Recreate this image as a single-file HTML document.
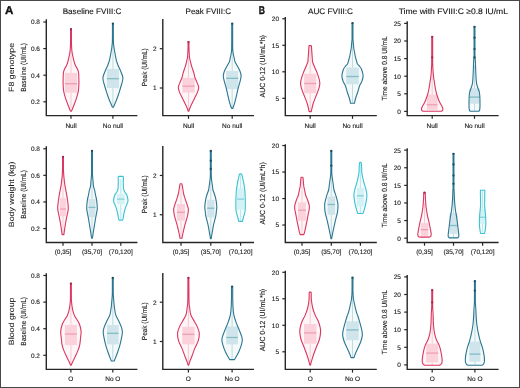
<!DOCTYPE html>
<html><head><meta charset="utf-8"><style>
html,body{margin:0;padding:0;background:#fff;}
svg{display:block;}
text{font-family:"Liberation Sans",sans-serif;text-rendering:geometricPrecision;}
</style></head><body>
<svg width="520" height="388" viewBox="0 0 520 388" font-family="Liberation Sans, sans-serif">
<rect x="0" y="0" width="520" height="388" fill="#ffffff"/>
<rect x="0.5" y="0.5" width="519" height="387" fill="none" stroke="#484848" stroke-width="1"/>
<line x1="43.30" y1="22.00" x2="46.30" y2="22.00" stroke="#262626" stroke-width="1.2"/>
<line x1="43.30" y1="48.60" x2="46.30" y2="48.60" stroke="#262626" stroke-width="1.2"/>
<line x1="43.30" y1="75.20" x2="46.30" y2="75.20" stroke="#262626" stroke-width="1.2"/>
<line x1="43.30" y1="101.80" x2="46.30" y2="101.80" stroke="#262626" stroke-width="1.2"/>
<path d="M70.55,29.00 L71.45,29.00 C71.45,30.83 71.43,37.17 71.45,40.00 C71.47,42.83 71.49,44.37 71.55,46.00 C71.61,47.63 71.69,48.63 71.80,49.80 C71.91,50.97 72.03,51.97 72.20,53.00 C72.37,54.03 72.53,54.77 72.80,56.00 C73.07,57.23 73.52,59.23 73.80,60.40 C74.08,61.57 74.20,62.10 74.50,63.00 C74.80,63.90 75.15,64.88 75.60,65.80 C76.05,66.72 76.75,67.58 77.20,68.50 C77.65,69.42 78.05,70.38 78.30,71.30 C78.55,72.22 78.62,73.05 78.70,74.00 C78.78,74.95 78.77,75.73 78.80,77.00 C78.83,78.27 78.90,80.10 78.90,81.60 C78.90,83.10 78.87,84.62 78.80,86.00 C78.73,87.38 78.65,88.70 78.50,89.90 C78.35,91.10 78.22,91.88 77.90,93.20 C77.58,94.52 77.03,96.42 76.60,97.80 C76.17,99.18 75.72,100.33 75.30,101.50 C74.88,102.67 74.48,103.80 74.10,104.80 C73.72,105.80 73.32,106.70 73.00,107.50 C72.68,108.30 72.47,108.98 72.20,109.60 C71.93,110.22 71.53,110.93 71.40,111.20 L70.60,111.20 C70.47,110.93 70.07,110.22 69.80,109.60 C69.53,108.98 69.32,108.30 69.00,107.50 C68.68,106.70 68.28,105.80 67.90,104.80 C67.52,103.80 67.12,102.67 66.70,101.50 C66.28,100.33 65.83,99.18 65.40,97.80 C64.97,96.42 64.42,94.52 64.10,93.20 C63.78,91.88 63.65,91.10 63.50,89.90 C63.35,88.70 63.27,87.38 63.20,86.00 C63.13,84.62 63.10,83.10 63.10,81.60 C63.10,80.10 63.17,78.27 63.20,77.00 C63.23,75.73 63.22,74.95 63.30,74.00 C63.38,73.05 63.45,72.22 63.70,71.30 C63.95,70.38 64.35,69.42 64.80,68.50 C65.25,67.58 65.95,66.72 66.40,65.80 C66.85,64.88 67.20,63.90 67.50,63.00 C67.80,62.10 67.92,61.57 68.20,60.40 C68.48,59.23 68.93,57.23 69.20,56.00 C69.47,54.77 69.63,54.03 69.80,53.00 C69.97,51.97 70.09,50.97 70.20,49.80 C70.31,48.63 70.39,47.63 70.45,46.00 C70.51,44.37 70.53,42.83 70.55,40.00 C70.57,37.17 70.55,30.83 70.55,29.00Z" fill="#fef5f7" stroke="none"/>
<line x1="71.00" y1="43.35" x2="71.00" y2="110.70" stroke="#f3bfcd" stroke-width="0.8"/>
<rect x="64.90" y="72.90" width="12.20" height="19.70" fill="#fbd1db"/>
<line x1="64.90" y1="83.70" x2="77.10" y2="83.70" stroke="#ef9fb3" stroke-width="1.3"/>
<path d="M70.55,29.00 L71.45,29.00 C71.45,30.83 71.43,37.17 71.45,40.00 C71.47,42.83 71.49,44.37 71.55,46.00 C71.61,47.63 71.69,48.63 71.80,49.80 C71.91,50.97 72.03,51.97 72.20,53.00 C72.37,54.03 72.53,54.77 72.80,56.00 C73.07,57.23 73.52,59.23 73.80,60.40 C74.08,61.57 74.20,62.10 74.50,63.00 C74.80,63.90 75.15,64.88 75.60,65.80 C76.05,66.72 76.75,67.58 77.20,68.50 C77.65,69.42 78.05,70.38 78.30,71.30 C78.55,72.22 78.62,73.05 78.70,74.00 C78.78,74.95 78.77,75.73 78.80,77.00 C78.83,78.27 78.90,80.10 78.90,81.60 C78.90,83.10 78.87,84.62 78.80,86.00 C78.73,87.38 78.65,88.70 78.50,89.90 C78.35,91.10 78.22,91.88 77.90,93.20 C77.58,94.52 77.03,96.42 76.60,97.80 C76.17,99.18 75.72,100.33 75.30,101.50 C74.88,102.67 74.48,103.80 74.10,104.80 C73.72,105.80 73.32,106.70 73.00,107.50 C72.68,108.30 72.47,108.98 72.20,109.60 C71.93,110.22 71.53,110.93 71.40,111.20 L70.60,111.20 C70.47,110.93 70.07,110.22 69.80,109.60 C69.53,108.98 69.32,108.30 69.00,107.50 C68.68,106.70 68.28,105.80 67.90,104.80 C67.52,103.80 67.12,102.67 66.70,101.50 C66.28,100.33 65.83,99.18 65.40,97.80 C64.97,96.42 64.42,94.52 64.10,93.20 C63.78,91.88 63.65,91.10 63.50,89.90 C63.35,88.70 63.27,87.38 63.20,86.00 C63.13,84.62 63.10,83.10 63.10,81.60 C63.10,80.10 63.17,78.27 63.20,77.00 C63.23,75.73 63.22,74.95 63.30,74.00 C63.38,73.05 63.45,72.22 63.70,71.30 C63.95,70.38 64.35,69.42 64.80,68.50 C65.25,67.58 65.95,66.72 66.40,65.80 C66.85,64.88 67.20,63.90 67.50,63.00 C67.80,62.10 67.92,61.57 68.20,60.40 C68.48,59.23 68.93,57.23 69.20,56.00 C69.47,54.77 69.63,54.03 69.80,53.00 C69.97,51.97 70.09,50.97 70.20,49.80 C70.31,48.63 70.39,47.63 70.45,46.00 C70.51,44.37 70.53,42.83 70.55,40.00 C70.57,37.17 70.55,30.83 70.55,29.00Z" fill="none" stroke="#db365f" stroke-width="1.10" stroke-linejoin="round"/>
<circle cx="71.00" cy="29.20" r="1.15" fill="#9c2b4e"/>
<path d="M112.45,23.50 L113.35,23.50 C113.35,25.42 113.33,31.92 113.35,35.00 C113.37,38.08 113.39,40.33 113.45,42.00 C113.51,43.67 113.58,43.83 113.70,45.00 C113.83,46.17 113.97,47.50 114.20,49.00 C114.43,50.50 114.75,52.13 115.10,54.00 C115.45,55.87 115.83,58.37 116.30,60.20 C116.77,62.03 117.25,63.37 117.90,65.00 C118.55,66.63 119.48,68.33 120.20,70.00 C120.92,71.67 121.75,73.67 122.20,75.00 C122.65,76.33 122.85,77.00 122.90,78.00 C122.95,79.00 122.80,79.67 122.50,81.00 C122.20,82.33 121.53,84.50 121.10,86.00 C120.67,87.50 120.37,88.50 119.90,90.00 C119.43,91.50 118.87,93.33 118.30,95.00 C117.73,96.67 117.08,98.50 116.50,100.00 C115.92,101.50 115.32,102.80 114.80,104.00 C114.28,105.20 113.63,106.67 113.40,107.20 L112.40,107.20 C112.17,106.67 111.52,105.20 111.00,104.00 C110.48,102.80 109.88,101.50 109.30,100.00 C108.72,98.50 108.07,96.67 107.50,95.00 C106.93,93.33 106.37,91.50 105.90,90.00 C105.43,88.50 105.13,87.50 104.70,86.00 C104.27,84.50 103.60,82.33 103.30,81.00 C103.00,79.67 102.85,79.00 102.90,78.00 C102.95,77.00 103.15,76.33 103.60,75.00 C104.05,73.67 104.88,71.67 105.60,70.00 C106.32,68.33 107.25,66.63 107.90,65.00 C108.55,63.37 109.03,62.03 109.50,60.20 C109.97,58.37 110.35,55.87 110.70,54.00 C111.05,52.13 111.37,50.50 111.60,49.00 C111.83,47.50 111.98,46.17 112.10,45.00 C112.23,43.83 112.29,43.67 112.35,42.00 C112.41,40.33 112.43,38.08 112.45,35.00 C112.47,31.92 112.45,25.42 112.45,23.50Z" fill="#f4f9fa" stroke="none"/>
<line x1="112.90" y1="40.50" x2="112.90" y2="106.70" stroke="#b2d3da" stroke-width="0.8"/>
<rect x="106.90" y="69.00" width="12.00" height="19.00" fill="#cfe5eb"/>
<line x1="106.90" y1="78.70" x2="118.90" y2="78.70" stroke="#82bcc6" stroke-width="1.3"/>
<path d="M112.45,23.50 L113.35,23.50 C113.35,25.42 113.33,31.92 113.35,35.00 C113.37,38.08 113.39,40.33 113.45,42.00 C113.51,43.67 113.58,43.83 113.70,45.00 C113.83,46.17 113.97,47.50 114.20,49.00 C114.43,50.50 114.75,52.13 115.10,54.00 C115.45,55.87 115.83,58.37 116.30,60.20 C116.77,62.03 117.25,63.37 117.90,65.00 C118.55,66.63 119.48,68.33 120.20,70.00 C120.92,71.67 121.75,73.67 122.20,75.00 C122.65,76.33 122.85,77.00 122.90,78.00 C122.95,79.00 122.80,79.67 122.50,81.00 C122.20,82.33 121.53,84.50 121.10,86.00 C120.67,87.50 120.37,88.50 119.90,90.00 C119.43,91.50 118.87,93.33 118.30,95.00 C117.73,96.67 117.08,98.50 116.50,100.00 C115.92,101.50 115.32,102.80 114.80,104.00 C114.28,105.20 113.63,106.67 113.40,107.20 L112.40,107.20 C112.17,106.67 111.52,105.20 111.00,104.00 C110.48,102.80 109.88,101.50 109.30,100.00 C108.72,98.50 108.07,96.67 107.50,95.00 C106.93,93.33 106.37,91.50 105.90,90.00 C105.43,88.50 105.13,87.50 104.70,86.00 C104.27,84.50 103.60,82.33 103.30,81.00 C103.00,79.67 102.85,79.00 102.90,78.00 C102.95,77.00 103.15,76.33 103.60,75.00 C104.05,73.67 104.88,71.67 105.60,70.00 C106.32,68.33 107.25,66.63 107.90,65.00 C108.55,63.37 109.03,62.03 109.50,60.20 C109.97,58.37 110.35,55.87 110.70,54.00 C111.05,52.13 111.37,50.50 111.60,49.00 C111.83,47.50 111.98,46.17 112.10,45.00 C112.23,43.83 112.29,43.67 112.35,42.00 C112.41,40.33 112.43,38.08 112.45,35.00 C112.47,31.92 112.45,25.42 112.45,23.50Z" fill="none" stroke="#2b7691" stroke-width="1.10" stroke-linejoin="round"/>
<circle cx="112.90" cy="23.70" r="1.15" fill="#1f4d5e"/>
<line x1="71.00" y1="115.60" x2="71.00" y2="118.80" stroke="#262626" stroke-width="1.2"/>
<line x1="112.90" y1="115.60" x2="112.90" y2="118.80" stroke="#262626" stroke-width="1.2"/>
<path d="M46.30,19.30 L46.30,115.60 L137.40,115.60" fill="none" stroke="#262626" stroke-width="1.4"/>
<line x1="159.80" y1="48.70" x2="162.80" y2="48.70" stroke="#262626" stroke-width="1.2"/>
<line x1="159.80" y1="88.00" x2="162.80" y2="88.00" stroke="#262626" stroke-width="1.2"/>
<path d="M188.05,41.90 L188.95,41.90 C188.95,42.75 188.93,45.65 188.95,47.00 C188.97,48.35 189.01,49.00 189.05,50.00 C189.09,51.00 189.12,51.72 189.20,53.00 C189.28,54.28 189.37,56.37 189.55,57.70 C189.73,59.03 189.99,59.70 190.30,61.00 C190.61,62.30 191.02,64.17 191.40,65.50 C191.78,66.83 192.18,67.72 192.60,69.00 C193.02,70.28 193.48,71.70 193.90,73.20 C194.32,74.70 194.57,76.43 195.10,78.00 C195.63,79.57 196.50,81.05 197.10,82.60 C197.70,84.15 198.62,85.75 198.70,87.30 C198.78,88.85 198.15,90.35 197.60,91.90 C197.05,93.45 196.15,95.05 195.40,96.60 C194.65,98.15 193.87,99.65 193.10,101.20 C192.33,102.75 191.40,104.60 190.80,105.90 C190.20,107.20 189.82,108.12 189.50,109.00 C189.18,109.88 189.00,110.83 188.90,111.20 L188.10,111.20 C188.00,110.83 187.82,109.88 187.50,109.00 C187.18,108.12 186.80,107.20 186.20,105.90 C185.60,104.60 184.67,102.75 183.90,101.20 C183.13,99.65 182.35,98.15 181.60,96.60 C180.85,95.05 179.95,93.45 179.40,91.90 C178.85,90.35 178.22,88.85 178.30,87.30 C178.38,85.75 179.30,84.15 179.90,82.60 C180.50,81.05 181.37,79.57 181.90,78.00 C182.43,76.43 182.68,74.70 183.10,73.20 C183.52,71.70 183.98,70.28 184.40,69.00 C184.82,67.72 185.22,66.83 185.60,65.50 C185.98,64.17 186.39,62.30 186.70,61.00 C187.01,59.70 187.27,59.03 187.45,57.70 C187.63,56.37 187.72,54.28 187.80,53.00 C187.88,51.72 187.91,51.00 187.95,50.00 C187.99,49.00 188.03,48.35 188.05,47.00 C188.07,45.65 188.05,42.75 188.05,41.90Z" fill="#fef5f7" stroke="none"/>
<line x1="188.50" y1="56.00" x2="188.50" y2="110.70" stroke="#f3bfcd" stroke-width="0.8"/>
<rect x="182.40" y="77.90" width="12.20" height="14.60" fill="#fbd1db"/>
<line x1="182.40" y1="86.20" x2="194.60" y2="86.20" stroke="#ef9fb3" stroke-width="1.3"/>
<path d="M188.05,41.90 L188.95,41.90 C188.95,42.75 188.93,45.65 188.95,47.00 C188.97,48.35 189.01,49.00 189.05,50.00 C189.09,51.00 189.12,51.72 189.20,53.00 C189.28,54.28 189.37,56.37 189.55,57.70 C189.73,59.03 189.99,59.70 190.30,61.00 C190.61,62.30 191.02,64.17 191.40,65.50 C191.78,66.83 192.18,67.72 192.60,69.00 C193.02,70.28 193.48,71.70 193.90,73.20 C194.32,74.70 194.57,76.43 195.10,78.00 C195.63,79.57 196.50,81.05 197.10,82.60 C197.70,84.15 198.62,85.75 198.70,87.30 C198.78,88.85 198.15,90.35 197.60,91.90 C197.05,93.45 196.15,95.05 195.40,96.60 C194.65,98.15 193.87,99.65 193.10,101.20 C192.33,102.75 191.40,104.60 190.80,105.90 C190.20,107.20 189.82,108.12 189.50,109.00 C189.18,109.88 189.00,110.83 188.90,111.20 L188.10,111.20 C188.00,110.83 187.82,109.88 187.50,109.00 C187.18,108.12 186.80,107.20 186.20,105.90 C185.60,104.60 184.67,102.75 183.90,101.20 C183.13,99.65 182.35,98.15 181.60,96.60 C180.85,95.05 179.95,93.45 179.40,91.90 C178.85,90.35 178.22,88.85 178.30,87.30 C178.38,85.75 179.30,84.15 179.90,82.60 C180.50,81.05 181.37,79.57 181.90,78.00 C182.43,76.43 182.68,74.70 183.10,73.20 C183.52,71.70 183.98,70.28 184.40,69.00 C184.82,67.72 185.22,66.83 185.60,65.50 C185.98,64.17 186.39,62.30 186.70,61.00 C187.01,59.70 187.27,59.03 187.45,57.70 C187.63,56.37 187.72,54.28 187.80,53.00 C187.88,51.72 187.91,51.00 187.95,50.00 C187.99,49.00 188.03,48.35 188.05,47.00 C188.07,45.65 188.05,42.75 188.05,41.90Z" fill="none" stroke="#db365f" stroke-width="1.10" stroke-linejoin="round"/>
<circle cx="188.50" cy="42.10" r="1.15" fill="#9c2b4e"/>
<path d="M231.75,23.50 L232.65,23.50 C232.65,26.25 232.64,36.08 232.65,40.00 C232.66,43.92 232.67,45.25 232.70,47.00 C232.72,48.75 232.67,49.17 232.80,50.50 C232.93,51.83 233.20,53.42 233.50,55.00 C233.80,56.58 234.33,58.83 234.60,60.00 C234.87,61.17 234.62,60.97 235.10,62.00 C235.58,63.03 236.65,64.58 237.50,66.20 C238.35,67.82 239.60,70.08 240.20,71.70 C240.80,73.32 241.12,74.28 241.10,75.90 C241.08,77.52 240.60,79.33 240.10,81.40 C239.60,83.47 238.68,86.00 238.10,88.30 C237.52,90.60 237.13,92.88 236.60,95.20 C236.07,97.52 235.38,100.40 234.90,102.20 C234.42,104.00 234.05,104.97 233.70,106.00 C233.35,107.03 232.95,108.00 232.80,108.40 L231.60,108.40 C231.45,108.00 231.05,107.03 230.70,106.00 C230.35,104.97 229.98,104.00 229.50,102.20 C229.02,100.40 228.33,97.52 227.80,95.20 C227.27,92.88 226.88,90.60 226.30,88.30 C225.72,86.00 224.80,83.47 224.30,81.40 C223.80,79.33 223.32,77.52 223.30,75.90 C223.28,74.28 223.60,73.32 224.20,71.70 C224.80,70.08 226.05,67.82 226.90,66.20 C227.75,64.58 228.82,63.03 229.30,62.00 C229.78,60.97 229.53,61.17 229.80,60.00 C230.07,58.83 230.60,56.58 230.90,55.00 C231.20,53.42 231.47,51.83 231.60,50.50 C231.73,49.17 231.67,48.75 231.70,47.00 C231.72,45.25 231.74,43.92 231.75,40.00 C231.76,36.08 231.75,26.25 231.75,23.50Z" fill="#f4f9fa" stroke="none"/>
<line x1="232.20" y1="44.00" x2="232.20" y2="107.90" stroke="#b2d3da" stroke-width="0.8"/>
<rect x="226.20" y="71.00" width="12.00" height="18.00" fill="#cfe5eb"/>
<line x1="226.20" y1="78.30" x2="238.20" y2="78.30" stroke="#82bcc6" stroke-width="1.3"/>
<path d="M231.75,23.50 L232.65,23.50 C232.65,26.25 232.64,36.08 232.65,40.00 C232.66,43.92 232.67,45.25 232.70,47.00 C232.72,48.75 232.67,49.17 232.80,50.50 C232.93,51.83 233.20,53.42 233.50,55.00 C233.80,56.58 234.33,58.83 234.60,60.00 C234.87,61.17 234.62,60.97 235.10,62.00 C235.58,63.03 236.65,64.58 237.50,66.20 C238.35,67.82 239.60,70.08 240.20,71.70 C240.80,73.32 241.12,74.28 241.10,75.90 C241.08,77.52 240.60,79.33 240.10,81.40 C239.60,83.47 238.68,86.00 238.10,88.30 C237.52,90.60 237.13,92.88 236.60,95.20 C236.07,97.52 235.38,100.40 234.90,102.20 C234.42,104.00 234.05,104.97 233.70,106.00 C233.35,107.03 232.95,108.00 232.80,108.40 L231.60,108.40 C231.45,108.00 231.05,107.03 230.70,106.00 C230.35,104.97 229.98,104.00 229.50,102.20 C229.02,100.40 228.33,97.52 227.80,95.20 C227.27,92.88 226.88,90.60 226.30,88.30 C225.72,86.00 224.80,83.47 224.30,81.40 C223.80,79.33 223.32,77.52 223.30,75.90 C223.28,74.28 223.60,73.32 224.20,71.70 C224.80,70.08 226.05,67.82 226.90,66.20 C227.75,64.58 228.82,63.03 229.30,62.00 C229.78,60.97 229.53,61.17 229.80,60.00 C230.07,58.83 230.60,56.58 230.90,55.00 C231.20,53.42 231.47,51.83 231.60,50.50 C231.73,49.17 231.67,48.75 231.70,47.00 C231.72,45.25 231.74,43.92 231.75,40.00 C231.76,36.08 231.75,26.25 231.75,23.50Z" fill="none" stroke="#2b7691" stroke-width="1.10" stroke-linejoin="round"/>
<circle cx="232.20" cy="23.70" r="1.15" fill="#1f4d5e"/>
<line x1="188.50" y1="115.60" x2="188.50" y2="118.80" stroke="#262626" stroke-width="1.2"/>
<line x1="232.20" y1="115.60" x2="232.20" y2="118.80" stroke="#262626" stroke-width="1.2"/>
<path d="M162.80,19.00 L162.80,115.60 L254.00,115.60" fill="none" stroke="#262626" stroke-width="1.4"/>
<line x1="282.30" y1="18.80" x2="285.30" y2="18.80" stroke="#262626" stroke-width="1.2"/>
<line x1="282.30" y1="45.30" x2="285.30" y2="45.30" stroke="#262626" stroke-width="1.2"/>
<line x1="282.30" y1="71.80" x2="285.30" y2="71.80" stroke="#262626" stroke-width="1.2"/>
<line x1="282.30" y1="98.30" x2="285.30" y2="98.30" stroke="#262626" stroke-width="1.2"/>
<path d="M309.20,45.60 L311.20,45.60 C311.25,45.83 311.40,45.95 311.50,47.00 C311.60,48.05 311.70,50.40 311.80,51.90 C311.90,53.40 312.00,54.65 312.10,56.00 C312.20,57.35 312.32,59.00 312.40,60.00 C312.48,61.00 312.20,60.75 312.60,62.00 C313.00,63.25 314.03,65.65 314.80,67.50 C315.57,69.35 316.43,71.02 317.20,73.10 C317.97,75.18 318.97,78.15 319.40,80.00 C319.83,81.85 319.95,82.58 319.80,84.20 C319.65,85.82 319.17,87.63 318.50,89.70 C317.83,91.77 316.68,94.30 315.80,96.60 C314.92,98.90 313.87,101.42 313.20,103.50 C312.53,105.58 312.12,107.75 311.80,109.10 C311.48,110.45 311.38,111.18 311.30,111.60 L309.10,111.60 C309.02,111.18 308.92,110.45 308.60,109.10 C308.28,107.75 307.87,105.58 307.20,103.50 C306.53,101.42 305.48,98.90 304.60,96.60 C303.72,94.30 302.57,91.77 301.90,89.70 C301.23,87.63 300.75,85.82 300.60,84.20 C300.45,82.58 300.57,81.85 301.00,80.00 C301.43,78.15 302.43,75.18 303.20,73.10 C303.97,71.02 304.83,69.35 305.60,67.50 C306.37,65.65 307.40,63.25 307.80,62.00 C308.20,60.75 307.92,61.00 308.00,60.00 C308.08,59.00 308.20,57.35 308.30,56.00 C308.40,54.65 308.50,53.40 308.60,51.90 C308.70,50.40 308.80,48.05 308.90,47.00 C309.00,45.95 309.15,45.83 309.20,45.60Z" fill="#fef5f7" stroke="none"/>
<line x1="310.20" y1="46.60" x2="310.20" y2="111.10" stroke="#f3bfcd" stroke-width="0.8"/>
<rect x="304.20" y="73.80" width="12.00" height="19.40" fill="#fbd1db"/>
<line x1="304.20" y1="83.50" x2="316.20" y2="83.50" stroke="#ef9fb3" stroke-width="1.3"/>
<path d="M309.20,45.60 L311.20,45.60 C311.25,45.83 311.40,45.95 311.50,47.00 C311.60,48.05 311.70,50.40 311.80,51.90 C311.90,53.40 312.00,54.65 312.10,56.00 C312.20,57.35 312.32,59.00 312.40,60.00 C312.48,61.00 312.20,60.75 312.60,62.00 C313.00,63.25 314.03,65.65 314.80,67.50 C315.57,69.35 316.43,71.02 317.20,73.10 C317.97,75.18 318.97,78.15 319.40,80.00 C319.83,81.85 319.95,82.58 319.80,84.20 C319.65,85.82 319.17,87.63 318.50,89.70 C317.83,91.77 316.68,94.30 315.80,96.60 C314.92,98.90 313.87,101.42 313.20,103.50 C312.53,105.58 312.12,107.75 311.80,109.10 C311.48,110.45 311.38,111.18 311.30,111.60 L309.10,111.60 C309.02,111.18 308.92,110.45 308.60,109.10 C308.28,107.75 307.87,105.58 307.20,103.50 C306.53,101.42 305.48,98.90 304.60,96.60 C303.72,94.30 302.57,91.77 301.90,89.70 C301.23,87.63 300.75,85.82 300.60,84.20 C300.45,82.58 300.57,81.85 301.00,80.00 C301.43,78.15 302.43,75.18 303.20,73.10 C303.97,71.02 304.83,69.35 305.60,67.50 C306.37,65.65 307.40,63.25 307.80,62.00 C308.20,60.75 307.92,61.00 308.00,60.00 C308.08,59.00 308.20,57.35 308.30,56.00 C308.40,54.65 308.50,53.40 308.60,51.90 C308.70,50.40 308.80,48.05 308.90,47.00 C309.00,45.95 309.15,45.83 309.20,45.60Z" fill="none" stroke="#db365f" stroke-width="1.10" stroke-linejoin="round"/>
<path d="M352.05,23.00 L352.95,23.00 C352.95,25.50 352.92,35.03 352.95,38.00 C352.98,40.97 353.01,39.63 353.10,40.80 C353.19,41.97 353.37,43.63 353.50,45.00 C353.63,46.37 353.70,47.67 353.90,49.00 C354.10,50.33 354.48,51.83 354.70,53.00 C354.92,54.17 354.98,55.00 355.20,56.00 C355.42,57.00 355.73,58.00 356.00,59.00 C356.27,60.00 356.55,61.17 356.80,62.00 C357.05,62.83 357.05,63.30 357.50,64.00 C357.95,64.70 358.85,65.38 359.50,66.20 C360.15,67.02 360.92,67.93 361.40,68.90 C361.88,69.87 362.12,70.83 362.40,72.00 C362.68,73.17 363.18,74.33 363.10,75.90 C363.02,77.47 362.47,79.80 361.90,81.40 C361.33,83.00 360.42,83.65 359.70,85.50 C358.98,87.35 358.27,90.42 357.60,92.50 C356.93,94.58 356.17,96.50 355.70,98.00 C355.23,99.50 355.00,100.62 354.80,101.50 C354.60,102.38 354.55,103.00 354.50,103.30 L350.50,103.30 C350.45,103.00 350.40,102.38 350.20,101.50 C350.00,100.62 349.77,99.50 349.30,98.00 C348.83,96.50 348.07,94.58 347.40,92.50 C346.73,90.42 346.02,87.35 345.30,85.50 C344.58,83.65 343.67,83.00 343.10,81.40 C342.53,79.80 341.98,77.47 341.90,75.90 C341.82,74.33 342.32,73.17 342.60,72.00 C342.88,70.83 343.12,69.87 343.60,68.90 C344.08,67.93 344.85,67.02 345.50,66.20 C346.15,65.38 347.05,64.70 347.50,64.00 C347.95,63.30 347.95,62.83 348.20,62.00 C348.45,61.17 348.73,60.00 349.00,59.00 C349.27,58.00 349.58,57.00 349.80,56.00 C350.02,55.00 350.08,54.17 350.30,53.00 C350.52,51.83 350.90,50.33 351.10,49.00 C351.30,47.67 351.37,46.37 351.50,45.00 C351.63,43.63 351.81,41.97 351.90,40.80 C351.99,39.63 352.02,40.97 352.05,38.00 C352.08,35.03 352.05,25.50 352.05,23.00Z" fill="#f4f9fa" stroke="none"/>
<line x1="352.50" y1="42.45" x2="352.50" y2="102.80" stroke="#b2d3da" stroke-width="0.8"/>
<rect x="346.30" y="67.50" width="12.40" height="16.70" fill="#cfe5eb"/>
<line x1="346.30" y1="76.50" x2="358.70" y2="76.50" stroke="#82bcc6" stroke-width="1.3"/>
<path d="M352.05,23.00 L352.95,23.00 C352.95,25.50 352.92,35.03 352.95,38.00 C352.98,40.97 353.01,39.63 353.10,40.80 C353.19,41.97 353.37,43.63 353.50,45.00 C353.63,46.37 353.70,47.67 353.90,49.00 C354.10,50.33 354.48,51.83 354.70,53.00 C354.92,54.17 354.98,55.00 355.20,56.00 C355.42,57.00 355.73,58.00 356.00,59.00 C356.27,60.00 356.55,61.17 356.80,62.00 C357.05,62.83 357.05,63.30 357.50,64.00 C357.95,64.70 358.85,65.38 359.50,66.20 C360.15,67.02 360.92,67.93 361.40,68.90 C361.88,69.87 362.12,70.83 362.40,72.00 C362.68,73.17 363.18,74.33 363.10,75.90 C363.02,77.47 362.47,79.80 361.90,81.40 C361.33,83.00 360.42,83.65 359.70,85.50 C358.98,87.35 358.27,90.42 357.60,92.50 C356.93,94.58 356.17,96.50 355.70,98.00 C355.23,99.50 355.00,100.62 354.80,101.50 C354.60,102.38 354.55,103.00 354.50,103.30 L350.50,103.30 C350.45,103.00 350.40,102.38 350.20,101.50 C350.00,100.62 349.77,99.50 349.30,98.00 C348.83,96.50 348.07,94.58 347.40,92.50 C346.73,90.42 346.02,87.35 345.30,85.50 C344.58,83.65 343.67,83.00 343.10,81.40 C342.53,79.80 341.98,77.47 341.90,75.90 C341.82,74.33 342.32,73.17 342.60,72.00 C342.88,70.83 343.12,69.87 343.60,68.90 C344.08,67.93 344.85,67.02 345.50,66.20 C346.15,65.38 347.05,64.70 347.50,64.00 C347.95,63.30 347.95,62.83 348.20,62.00 C348.45,61.17 348.73,60.00 349.00,59.00 C349.27,58.00 349.58,57.00 349.80,56.00 C350.02,55.00 350.08,54.17 350.30,53.00 C350.52,51.83 350.90,50.33 351.10,49.00 C351.30,47.67 351.37,46.37 351.50,45.00 C351.63,43.63 351.81,41.97 351.90,40.80 C351.99,39.63 352.02,40.97 352.05,38.00 C352.08,35.03 352.05,25.50 352.05,23.00Z" fill="none" stroke="#2b7691" stroke-width="1.10" stroke-linejoin="round"/>
<circle cx="352.50" cy="23.20" r="1.15" fill="#1f4d5e"/>
<line x1="310.20" y1="115.60" x2="310.20" y2="118.80" stroke="#262626" stroke-width="1.2"/>
<line x1="352.50" y1="115.60" x2="352.50" y2="118.80" stroke="#262626" stroke-width="1.2"/>
<path d="M285.30,17.00 L285.30,115.60 L376.80,115.60" fill="none" stroke="#262626" stroke-width="1.4"/>
<line x1="404.20" y1="23.40" x2="407.20" y2="23.40" stroke="#262626" stroke-width="1.2"/>
<line x1="404.20" y1="41.00" x2="407.20" y2="41.00" stroke="#262626" stroke-width="1.2"/>
<line x1="404.20" y1="58.60" x2="407.20" y2="58.60" stroke="#262626" stroke-width="1.2"/>
<line x1="404.20" y1="76.20" x2="407.20" y2="76.20" stroke="#262626" stroke-width="1.2"/>
<line x1="404.20" y1="93.80" x2="407.20" y2="93.80" stroke="#262626" stroke-width="1.2"/>
<line x1="404.20" y1="111.40" x2="407.20" y2="111.40" stroke="#262626" stroke-width="1.2"/>
<path d="M431.75,36.60 L432.65,36.60 C432.65,40.50 432.64,55.43 432.65,60.00 C432.66,64.57 432.64,62.28 432.70,64.00 C432.76,65.72 432.90,68.63 433.00,70.30 C433.10,71.97 433.17,72.62 433.30,74.00 C433.43,75.38 433.62,77.27 433.80,78.60 C433.98,79.93 434.18,80.62 434.40,82.00 C434.62,83.38 434.88,85.57 435.10,86.90 C435.32,88.23 435.45,88.83 435.70,90.00 C435.95,91.17 436.25,92.65 436.60,93.90 C436.95,95.15 437.40,96.35 437.80,97.50 C438.20,98.65 438.55,99.77 439.00,100.80 C439.45,101.83 440.03,102.83 440.50,103.70 C440.97,104.57 441.42,105.22 441.80,106.00 C442.18,106.78 442.65,107.68 442.80,108.40 C442.95,109.12 442.88,109.83 442.70,110.30 C442.52,110.77 441.87,111.05 441.70,111.20 L422.70,111.20 C422.53,111.05 421.88,110.77 421.70,110.30 C421.52,109.83 421.45,109.12 421.60,108.40 C421.75,107.68 422.22,106.78 422.60,106.00 C422.98,105.22 423.43,104.57 423.90,103.70 C424.37,102.83 424.95,101.83 425.40,100.80 C425.85,99.77 426.20,98.65 426.60,97.50 C427.00,96.35 427.45,95.15 427.80,93.90 C428.15,92.65 428.45,91.17 428.70,90.00 C428.95,88.83 429.08,88.23 429.30,86.90 C429.52,85.57 429.78,83.38 430.00,82.00 C430.22,80.62 430.42,79.93 430.60,78.60 C430.78,77.27 430.97,75.38 431.10,74.00 C431.23,72.62 431.30,71.97 431.40,70.30 C431.50,68.63 431.64,65.72 431.70,64.00 C431.76,62.28 431.74,64.57 431.75,60.00 C431.76,55.43 431.75,40.50 431.75,36.60Z" fill="#fef5f7" stroke="none"/>
<line x1="432.20" y1="71.55" x2="432.20" y2="110.70" stroke="#f3bfcd" stroke-width="0.8"/>
<rect x="426.90" y="94.50" width="10.60" height="15.30" fill="#fbd1db"/>
<line x1="426.90" y1="104.80" x2="437.50" y2="104.80" stroke="#ef9fb3" stroke-width="1.3"/>
<path d="M431.75,36.60 L432.65,36.60 C432.65,40.50 432.64,55.43 432.65,60.00 C432.66,64.57 432.64,62.28 432.70,64.00 C432.76,65.72 432.90,68.63 433.00,70.30 C433.10,71.97 433.17,72.62 433.30,74.00 C433.43,75.38 433.62,77.27 433.80,78.60 C433.98,79.93 434.18,80.62 434.40,82.00 C434.62,83.38 434.88,85.57 435.10,86.90 C435.32,88.23 435.45,88.83 435.70,90.00 C435.95,91.17 436.25,92.65 436.60,93.90 C436.95,95.15 437.40,96.35 437.80,97.50 C438.20,98.65 438.55,99.77 439.00,100.80 C439.45,101.83 440.03,102.83 440.50,103.70 C440.97,104.57 441.42,105.22 441.80,106.00 C442.18,106.78 442.65,107.68 442.80,108.40 C442.95,109.12 442.88,109.83 442.70,110.30 C442.52,110.77 441.87,111.05 441.70,111.20 L422.70,111.20 C422.53,111.05 421.88,110.77 421.70,110.30 C421.52,109.83 421.45,109.12 421.60,108.40 C421.75,107.68 422.22,106.78 422.60,106.00 C422.98,105.22 423.43,104.57 423.90,103.70 C424.37,102.83 424.95,101.83 425.40,100.80 C425.85,99.77 426.20,98.65 426.60,97.50 C427.00,96.35 427.45,95.15 427.80,93.90 C428.15,92.65 428.45,91.17 428.70,90.00 C428.95,88.83 429.08,88.23 429.30,86.90 C429.52,85.57 429.78,83.38 430.00,82.00 C430.22,80.62 430.42,79.93 430.60,78.60 C430.78,77.27 430.97,75.38 431.10,74.00 C431.23,72.62 431.30,71.97 431.40,70.30 C431.50,68.63 431.64,65.72 431.70,64.00 C431.76,62.28 431.74,64.57 431.75,60.00 C431.76,55.43 431.75,40.50 431.75,36.60Z" fill="none" stroke="#db365f" stroke-width="1.10" stroke-linejoin="round"/>
<circle cx="432.20" cy="36.80" r="1.15" fill="#9c2b4e"/>
<circle cx="432.20" cy="57.40" r="1.15" fill="#9c2b4e"/>
<path d="M474.05,26.60 L474.95,26.60 C474.95,31.17 474.92,48.77 474.95,54.00 C474.98,59.23 475.03,56.67 475.10,58.00 C475.18,59.33 475.30,59.95 475.40,62.00 C475.50,64.05 475.58,67.53 475.70,70.30 C475.82,73.07 475.93,76.28 476.10,78.60 C476.27,80.92 476.38,82.58 476.70,84.20 C477.02,85.82 477.55,86.92 478.00,88.30 C478.45,89.68 479.08,90.88 479.40,92.50 C479.72,94.12 479.80,95.93 479.90,98.00 C480.00,100.07 480.03,102.93 480.00,104.90 C479.97,106.87 479.90,108.75 479.70,109.80 C479.50,110.85 478.95,110.97 478.80,111.20 L470.20,111.20 C470.05,110.97 469.50,110.85 469.30,109.80 C469.10,108.75 469.03,106.87 469.00,104.90 C468.97,102.93 469.00,100.07 469.10,98.00 C469.20,95.93 469.28,94.12 469.60,92.50 C469.92,90.88 470.55,89.68 471.00,88.30 C471.45,86.92 471.98,85.82 472.30,84.20 C472.62,82.58 472.73,80.92 472.90,78.60 C473.07,76.28 473.18,73.07 473.30,70.30 C473.42,67.53 473.50,64.05 473.60,62.00 C473.70,59.95 473.82,59.33 473.90,58.00 C473.97,56.67 474.02,59.23 474.05,54.00 C474.08,48.77 474.05,31.17 474.05,26.60Z" fill="#f4f9fa" stroke="none"/>
<line x1="474.50" y1="65.20" x2="474.50" y2="110.70" stroke="#b2d3da" stroke-width="0.8"/>
<rect x="469.40" y="88.30" width="10.20" height="15.40" fill="#cfe5eb"/>
<line x1="469.40" y1="97.10" x2="479.60" y2="97.10" stroke="#82bcc6" stroke-width="1.3"/>
<path d="M474.05,26.60 L474.95,26.60 C474.95,31.17 474.92,48.77 474.95,54.00 C474.98,59.23 475.03,56.67 475.10,58.00 C475.18,59.33 475.30,59.95 475.40,62.00 C475.50,64.05 475.58,67.53 475.70,70.30 C475.82,73.07 475.93,76.28 476.10,78.60 C476.27,80.92 476.38,82.58 476.70,84.20 C477.02,85.82 477.55,86.92 478.00,88.30 C478.45,89.68 479.08,90.88 479.40,92.50 C479.72,94.12 479.80,95.93 479.90,98.00 C480.00,100.07 480.03,102.93 480.00,104.90 C479.97,106.87 479.90,108.75 479.70,109.80 C479.50,110.85 478.95,110.97 478.80,111.20 L470.20,111.20 C470.05,110.97 469.50,110.85 469.30,109.80 C469.10,108.75 469.03,106.87 469.00,104.90 C468.97,102.93 469.00,100.07 469.10,98.00 C469.20,95.93 469.28,94.12 469.60,92.50 C469.92,90.88 470.55,89.68 471.00,88.30 C471.45,86.92 471.98,85.82 472.30,84.20 C472.62,82.58 472.73,80.92 472.90,78.60 C473.07,76.28 473.18,73.07 473.30,70.30 C473.42,67.53 473.50,64.05 473.60,62.00 C473.70,59.95 473.82,59.33 473.90,58.00 C473.97,56.67 474.02,59.23 474.05,54.00 C474.08,48.77 474.05,31.17 474.05,26.60Z" fill="none" stroke="#2b7691" stroke-width="1.10" stroke-linejoin="round"/>
<circle cx="474.50" cy="26.80" r="1.15" fill="#1f4d5e"/>
<circle cx="474.50" cy="37.70" r="1.15" fill="#1f4d5e"/>
<circle cx="474.50" cy="49.10" r="1.15" fill="#1f4d5e"/>
<circle cx="474.50" cy="57.40" r="1.15" fill="#1f4d5e"/>
<line x1="432.20" y1="115.60" x2="432.20" y2="118.80" stroke="#262626" stroke-width="1.2"/>
<line x1="474.50" y1="115.60" x2="474.50" y2="118.80" stroke="#262626" stroke-width="1.2"/>
<path d="M407.20,21.30 L407.20,115.60 L498.60,115.60" fill="none" stroke="#262626" stroke-width="1.4"/>
<line x1="43.30" y1="148.75" x2="46.30" y2="148.75" stroke="#262626" stroke-width="1.2"/>
<line x1="43.30" y1="175.35" x2="46.30" y2="175.35" stroke="#262626" stroke-width="1.2"/>
<line x1="43.30" y1="201.95" x2="46.30" y2="201.95" stroke="#262626" stroke-width="1.2"/>
<line x1="43.30" y1="228.55" x2="46.30" y2="228.55" stroke="#262626" stroke-width="1.2"/>
<path d="M62.55,156.60 L63.45,156.60 C63.45,158.50 63.42,165.25 63.45,168.00 C63.48,170.75 63.53,171.43 63.63,173.10 C63.73,174.77 63.84,176.07 64.03,178.00 C64.22,179.93 64.50,182.70 64.80,184.70 C65.09,186.70 65.43,188.02 65.80,190.00 C66.17,191.98 66.67,194.60 67.00,196.60 C67.33,198.60 67.58,200.07 67.80,202.00 C68.02,203.93 68.33,206.37 68.30,208.20 C68.27,210.03 67.90,211.35 67.60,213.00 C67.30,214.65 66.83,216.43 66.50,218.10 C66.17,219.77 65.88,221.35 65.60,223.00 C65.32,224.65 65.03,226.50 64.80,228.00 C64.57,229.50 64.38,230.90 64.23,232.00 C64.08,233.10 63.95,234.17 63.90,234.60 L62.10,234.60 C62.05,234.17 61.92,233.10 61.77,232.00 C61.62,230.90 61.43,229.50 61.20,228.00 C60.97,226.50 60.68,224.65 60.40,223.00 C60.12,221.35 59.83,219.77 59.50,218.10 C59.17,216.43 58.70,214.65 58.40,213.00 C58.10,211.35 57.73,210.03 57.70,208.20 C57.67,206.37 57.98,203.93 58.20,202.00 C58.42,200.07 58.67,198.60 59.00,196.60 C59.33,194.60 59.83,191.98 60.20,190.00 C60.57,188.02 60.91,186.70 61.20,184.70 C61.50,182.70 61.77,179.93 61.97,178.00 C62.16,176.07 62.27,174.77 62.37,173.10 C62.47,171.43 62.52,170.75 62.55,168.00 C62.58,165.25 62.55,158.50 62.55,156.60Z" fill="#fef5f7" stroke="none"/>
<line x1="63.00" y1="171.15" x2="63.00" y2="234.10" stroke="#f3bfcd" stroke-width="0.8"/>
<rect x="59.90" y="198.30" width="6.20" height="18.10" fill="#fbd1db"/>
<line x1="59.90" y1="209.00" x2="66.10" y2="209.00" stroke="#ef9fb3" stroke-width="1.3"/>
<path d="M62.55,156.60 L63.45,156.60 C63.45,158.50 63.42,165.25 63.45,168.00 C63.48,170.75 63.53,171.43 63.63,173.10 C63.73,174.77 63.84,176.07 64.03,178.00 C64.22,179.93 64.50,182.70 64.80,184.70 C65.09,186.70 65.43,188.02 65.80,190.00 C66.17,191.98 66.67,194.60 67.00,196.60 C67.33,198.60 67.58,200.07 67.80,202.00 C68.02,203.93 68.33,206.37 68.30,208.20 C68.27,210.03 67.90,211.35 67.60,213.00 C67.30,214.65 66.83,216.43 66.50,218.10 C66.17,219.77 65.88,221.35 65.60,223.00 C65.32,224.65 65.03,226.50 64.80,228.00 C64.57,229.50 64.38,230.90 64.23,232.00 C64.08,233.10 63.95,234.17 63.90,234.60 L62.10,234.60 C62.05,234.17 61.92,233.10 61.77,232.00 C61.62,230.90 61.43,229.50 61.20,228.00 C60.97,226.50 60.68,224.65 60.40,223.00 C60.12,221.35 59.83,219.77 59.50,218.10 C59.17,216.43 58.70,214.65 58.40,213.00 C58.10,211.35 57.73,210.03 57.70,208.20 C57.67,206.37 57.98,203.93 58.20,202.00 C58.42,200.07 58.67,198.60 59.00,196.60 C59.33,194.60 59.83,191.98 60.20,190.00 C60.57,188.02 60.91,186.70 61.20,184.70 C61.50,182.70 61.77,179.93 61.97,178.00 C62.16,176.07 62.27,174.77 62.37,173.10 C62.47,171.43 62.52,170.75 62.55,168.00 C62.58,165.25 62.55,158.50 62.55,156.60Z" fill="none" stroke="#db365f" stroke-width="1.10" stroke-linejoin="round"/>
<circle cx="63.00" cy="156.80" r="1.15" fill="#9c2b4e"/>
<path d="M91.55,150.80 L92.45,150.80 C92.45,154.33 92.42,167.73 92.45,172.00 C92.48,176.27 92.53,174.90 92.63,176.40 C92.73,177.90 92.89,179.35 93.03,181.00 C93.17,182.65 93.24,184.80 93.50,186.30 C93.76,187.80 94.27,188.55 94.60,190.00 C94.93,191.45 95.17,193.35 95.50,195.00 C95.83,196.65 96.30,197.70 96.60,199.90 C96.90,202.10 97.30,206.02 97.30,208.20 C97.30,210.38 96.88,211.35 96.60,213.00 C96.32,214.65 95.90,216.43 95.60,218.10 C95.30,219.77 95.07,221.35 94.80,223.00 C94.53,224.65 94.27,226.33 94.00,228.00 C93.73,229.67 93.39,231.58 93.17,233.00 C92.95,234.42 92.84,235.62 92.70,236.50 C92.56,237.38 92.37,238.00 92.30,238.30 L91.70,238.30 C91.63,238.00 91.44,237.38 91.30,236.50 C91.16,235.62 91.05,234.42 90.83,233.00 C90.61,231.58 90.27,229.67 90.00,228.00 C89.73,226.33 89.47,224.65 89.20,223.00 C88.93,221.35 88.70,219.77 88.40,218.10 C88.10,216.43 87.68,214.65 87.40,213.00 C87.12,211.35 86.70,210.38 86.70,208.20 C86.70,206.02 87.10,202.10 87.40,199.90 C87.70,197.70 88.17,196.65 88.50,195.00 C88.83,193.35 89.07,191.45 89.40,190.00 C89.73,188.55 90.24,187.80 90.50,186.30 C90.76,184.80 90.83,182.65 90.97,181.00 C91.11,179.35 91.27,177.90 91.37,176.40 C91.47,174.90 91.52,176.27 91.55,172.00 C91.58,167.73 91.55,154.33 91.55,150.80Z" fill="#f4f9fa" stroke="none"/>
<line x1="92.00" y1="171.80" x2="92.00" y2="237.80" stroke="#b2d3da" stroke-width="0.8"/>
<rect x="88.50" y="199.10" width="7.00" height="18.20" fill="#cfe5eb"/>
<line x1="88.50" y1="207.40" x2="95.50" y2="207.40" stroke="#82bcc6" stroke-width="1.3"/>
<path d="M91.55,150.80 L92.45,150.80 C92.45,154.33 92.42,167.73 92.45,172.00 C92.48,176.27 92.53,174.90 92.63,176.40 C92.73,177.90 92.89,179.35 93.03,181.00 C93.17,182.65 93.24,184.80 93.50,186.30 C93.76,187.80 94.27,188.55 94.60,190.00 C94.93,191.45 95.17,193.35 95.50,195.00 C95.83,196.65 96.30,197.70 96.60,199.90 C96.90,202.10 97.30,206.02 97.30,208.20 C97.30,210.38 96.88,211.35 96.60,213.00 C96.32,214.65 95.90,216.43 95.60,218.10 C95.30,219.77 95.07,221.35 94.80,223.00 C94.53,224.65 94.27,226.33 94.00,228.00 C93.73,229.67 93.39,231.58 93.17,233.00 C92.95,234.42 92.84,235.62 92.70,236.50 C92.56,237.38 92.37,238.00 92.30,238.30 L91.70,238.30 C91.63,238.00 91.44,237.38 91.30,236.50 C91.16,235.62 91.05,234.42 90.83,233.00 C90.61,231.58 90.27,229.67 90.00,228.00 C89.73,226.33 89.47,224.65 89.20,223.00 C88.93,221.35 88.70,219.77 88.40,218.10 C88.10,216.43 87.68,214.65 87.40,213.00 C87.12,211.35 86.70,210.38 86.70,208.20 C86.70,206.02 87.10,202.10 87.40,199.90 C87.70,197.70 88.17,196.65 88.50,195.00 C88.83,193.35 89.07,191.45 89.40,190.00 C89.73,188.55 90.24,187.80 90.50,186.30 C90.76,184.80 90.83,182.65 90.97,181.00 C91.11,179.35 91.27,177.90 91.37,176.40 C91.47,174.90 91.52,176.27 91.55,172.00 C91.58,167.73 91.55,154.33 91.55,150.80Z" fill="none" stroke="#2b7691" stroke-width="1.10" stroke-linejoin="round"/>
<circle cx="92.00" cy="151.00" r="1.15" fill="#1f4d5e"/>
<path d="M118.50,176.40 L123.10,176.40 C123.15,176.55 123.37,176.20 123.40,177.30 C123.43,178.40 123.27,181.08 123.30,183.00 C123.33,184.92 123.35,187.30 123.60,188.80 C123.85,190.30 124.27,190.97 124.80,192.00 C125.33,193.03 126.27,193.55 126.80,195.00 C127.33,196.45 128.00,199.12 128.00,200.70 C128.00,202.28 127.25,203.25 126.80,204.50 C126.35,205.75 125.82,206.48 125.30,208.20 C124.78,209.92 124.07,213.08 123.70,214.80 C123.33,216.52 123.30,217.62 123.10,218.50 C122.90,219.38 122.60,219.83 122.50,220.10 L119.10,220.10 C119.00,219.83 118.70,219.38 118.50,218.50 C118.30,217.62 118.27,216.52 117.90,214.80 C117.53,213.08 116.82,209.92 116.30,208.20 C115.78,206.48 115.25,205.75 114.80,204.50 C114.35,203.25 113.60,202.28 113.60,200.70 C113.60,199.12 114.27,196.45 114.80,195.00 C115.33,193.55 116.27,193.03 116.80,192.00 C117.33,190.97 117.75,190.30 118.00,188.80 C118.25,187.30 118.27,184.92 118.30,183.00 C118.33,181.08 118.17,178.40 118.20,177.30 C118.23,176.20 118.45,176.55 118.50,176.40Z" fill="#f3fbfc" stroke="none"/>
<line x1="120.80" y1="179.25" x2="120.80" y2="218.85" stroke="#a8e2ea" stroke-width="0.8"/>
<rect x="117.10" y="194.10" width="7.40" height="9.90" fill="#d4f1f5"/>
<line x1="117.10" y1="199.10" x2="124.50" y2="199.10" stroke="#86d0dc" stroke-width="1.3"/>
<path d="M118.50,176.40 L123.10,176.40 C123.15,176.55 123.37,176.20 123.40,177.30 C123.43,178.40 123.27,181.08 123.30,183.00 C123.33,184.92 123.35,187.30 123.60,188.80 C123.85,190.30 124.27,190.97 124.80,192.00 C125.33,193.03 126.27,193.55 126.80,195.00 C127.33,196.45 128.00,199.12 128.00,200.70 C128.00,202.28 127.25,203.25 126.80,204.50 C126.35,205.75 125.82,206.48 125.30,208.20 C124.78,209.92 124.07,213.08 123.70,214.80 C123.33,216.52 123.30,217.62 123.10,218.50 C122.90,219.38 122.60,219.83 122.50,220.10 L119.10,220.10 C119.00,219.83 118.70,219.38 118.50,218.50 C118.30,217.62 118.27,216.52 117.90,214.80 C117.53,213.08 116.82,209.92 116.30,208.20 C115.78,206.48 115.25,205.75 114.80,204.50 C114.35,203.25 113.60,202.28 113.60,200.70 C113.60,199.12 114.27,196.45 114.80,195.00 C115.33,193.55 116.27,193.03 116.80,192.00 C117.33,190.97 117.75,190.30 118.00,188.80 C118.25,187.30 118.27,184.92 118.30,183.00 C118.33,181.08 118.17,178.40 118.20,177.30 C118.23,176.20 118.45,176.55 118.50,176.40Z" fill="none" stroke="#3bc2d1" stroke-width="1.10" stroke-linejoin="round"/>
<line x1="63.00" y1="242.50" x2="63.00" y2="245.70" stroke="#262626" stroke-width="1.2"/>
<line x1="92.00" y1="242.50" x2="92.00" y2="245.70" stroke="#262626" stroke-width="1.2"/>
<line x1="120.80" y1="242.50" x2="120.80" y2="245.70" stroke="#262626" stroke-width="1.2"/>
<path d="M46.30,146.30 L46.30,242.50 L137.40,242.50" fill="none" stroke="#262626" stroke-width="1.4"/>
<line x1="159.80" y1="175.45" x2="162.80" y2="175.45" stroke="#262626" stroke-width="1.2"/>
<line x1="159.80" y1="214.75" x2="162.80" y2="214.75" stroke="#262626" stroke-width="1.2"/>
<path d="M180.30,183.80 L181.70,183.80 C181.78,184.00 181.98,183.97 182.20,185.00 C182.42,186.03 182.75,188.50 183.00,190.00 C183.25,191.50 183.37,192.62 183.70,194.00 C184.03,195.38 184.52,196.80 185.00,198.30 C185.48,199.80 186.07,201.35 186.60,203.00 C187.13,204.65 187.92,206.87 188.20,208.20 C188.48,209.53 188.43,209.63 188.30,211.00 C188.17,212.37 187.95,214.12 187.40,216.40 C186.85,218.68 185.73,221.93 185.00,224.70 C184.27,227.47 183.45,231.03 183.00,233.00 C182.55,234.97 182.47,235.62 182.30,236.50 C182.13,237.38 182.05,238.00 182.00,238.30 L180.00,238.30 C179.95,238.00 179.87,237.38 179.70,236.50 C179.53,235.62 179.45,234.97 179.00,233.00 C178.55,231.03 177.73,227.47 177.00,224.70 C176.27,221.93 175.15,218.68 174.60,216.40 C174.05,214.12 173.83,212.37 173.70,211.00 C173.57,209.63 173.52,209.53 173.80,208.20 C174.08,206.87 174.87,204.65 175.40,203.00 C175.93,201.35 176.52,199.80 177.00,198.30 C177.48,196.80 177.97,195.38 178.30,194.00 C178.63,192.62 178.75,191.50 179.00,190.00 C179.25,188.50 179.58,186.03 179.80,185.00 C180.02,183.97 180.22,184.00 180.30,183.80Z" fill="#fef5f7" stroke="none"/>
<line x1="181.00" y1="184.80" x2="181.00" y2="237.80" stroke="#f3bfcd" stroke-width="0.8"/>
<rect x="177.00" y="204.00" width="8.00" height="16.60" fill="#fbd1db"/>
<line x1="177.00" y1="212.30" x2="185.00" y2="212.30" stroke="#ef9fb3" stroke-width="1.3"/>
<path d="M180.30,183.80 L181.70,183.80 C181.78,184.00 181.98,183.97 182.20,185.00 C182.42,186.03 182.75,188.50 183.00,190.00 C183.25,191.50 183.37,192.62 183.70,194.00 C184.03,195.38 184.52,196.80 185.00,198.30 C185.48,199.80 186.07,201.35 186.60,203.00 C187.13,204.65 187.92,206.87 188.20,208.20 C188.48,209.53 188.43,209.63 188.30,211.00 C188.17,212.37 187.95,214.12 187.40,216.40 C186.85,218.68 185.73,221.93 185.00,224.70 C184.27,227.47 183.45,231.03 183.00,233.00 C182.55,234.97 182.47,235.62 182.30,236.50 C182.13,237.38 182.05,238.00 182.00,238.30 L180.00,238.30 C179.95,238.00 179.87,237.38 179.70,236.50 C179.53,235.62 179.45,234.97 179.00,233.00 C178.55,231.03 177.73,227.47 177.00,224.70 C176.27,221.93 175.15,218.68 174.60,216.40 C174.05,214.12 173.83,212.37 173.70,211.00 C173.57,209.63 173.52,209.53 173.80,208.20 C174.08,206.87 174.87,204.65 175.40,203.00 C175.93,201.35 176.52,199.80 177.00,198.30 C177.48,196.80 177.97,195.38 178.30,194.00 C178.63,192.62 178.75,191.50 179.00,190.00 C179.25,188.50 179.58,186.03 179.80,185.00 C180.02,183.97 180.22,184.00 180.30,183.80Z" fill="none" stroke="#db365f" stroke-width="1.10" stroke-linejoin="round"/>
<path d="M210.35,150.80 L211.25,150.80 C211.25,154.67 211.22,169.47 211.25,174.00 C211.28,178.53 211.28,176.50 211.40,178.00 C211.53,179.50 211.78,181.33 212.00,183.00 C212.22,184.67 212.53,186.83 212.70,188.00 C212.87,189.17 212.50,188.28 213.00,190.00 C213.50,191.72 215.07,195.55 215.70,198.30 C216.33,201.05 216.68,204.38 216.80,206.50 C216.92,208.62 216.58,209.35 216.40,211.00 C216.22,212.65 216.17,214.12 215.70,216.40 C215.23,218.68 214.20,221.93 213.60,224.70 C213.00,227.47 212.45,231.03 212.10,233.00 C211.75,234.97 211.67,235.53 211.50,236.50 C211.33,237.47 211.17,238.42 211.10,238.80 L210.50,238.80 C210.43,238.42 210.27,237.47 210.10,236.50 C209.93,235.53 209.85,234.97 209.50,233.00 C209.15,231.03 208.60,227.47 208.00,224.70 C207.40,221.93 206.37,218.68 205.90,216.40 C205.43,214.12 205.38,212.65 205.20,211.00 C205.02,209.35 204.68,208.62 204.80,206.50 C204.92,204.38 205.27,201.05 205.90,198.30 C206.53,195.55 208.10,191.72 208.60,190.00 C209.10,188.28 208.73,189.17 208.90,188.00 C209.07,186.83 209.38,184.67 209.60,183.00 C209.82,181.33 210.08,179.50 210.20,178.00 C210.33,176.50 210.33,178.53 210.35,174.00 C210.38,169.47 210.35,154.67 210.35,150.80Z" fill="#f4f9fa" stroke="none"/>
<line x1="210.80" y1="173.80" x2="210.80" y2="238.30" stroke="#b2d3da" stroke-width="0.8"/>
<rect x="207.20" y="199.90" width="7.20" height="17.40" fill="#cfe5eb"/>
<line x1="207.20" y1="208.20" x2="214.40" y2="208.20" stroke="#82bcc6" stroke-width="1.3"/>
<path d="M210.35,150.80 L211.25,150.80 C211.25,154.67 211.22,169.47 211.25,174.00 C211.28,178.53 211.28,176.50 211.40,178.00 C211.53,179.50 211.78,181.33 212.00,183.00 C212.22,184.67 212.53,186.83 212.70,188.00 C212.87,189.17 212.50,188.28 213.00,190.00 C213.50,191.72 215.07,195.55 215.70,198.30 C216.33,201.05 216.68,204.38 216.80,206.50 C216.92,208.62 216.58,209.35 216.40,211.00 C216.22,212.65 216.17,214.12 215.70,216.40 C215.23,218.68 214.20,221.93 213.60,224.70 C213.00,227.47 212.45,231.03 212.10,233.00 C211.75,234.97 211.67,235.53 211.50,236.50 C211.33,237.47 211.17,238.42 211.10,238.80 L210.50,238.80 C210.43,238.42 210.27,237.47 210.10,236.50 C209.93,235.53 209.85,234.97 209.50,233.00 C209.15,231.03 208.60,227.47 208.00,224.70 C207.40,221.93 206.37,218.68 205.90,216.40 C205.43,214.12 205.38,212.65 205.20,211.00 C205.02,209.35 204.68,208.62 204.80,206.50 C204.92,204.38 205.27,201.05 205.90,198.30 C206.53,195.55 208.10,191.72 208.60,190.00 C209.10,188.28 208.73,189.17 208.90,188.00 C209.07,186.83 209.38,184.67 209.60,183.00 C209.82,181.33 210.08,179.50 210.20,178.00 C210.33,176.50 210.33,178.53 210.35,174.00 C210.38,169.47 210.35,154.67 210.35,150.80Z" fill="none" stroke="#2b7691" stroke-width="1.10" stroke-linejoin="round"/>
<circle cx="210.80" cy="151.00" r="1.15" fill="#1f4d5e"/>
<circle cx="210.80" cy="160.70" r="1.15" fill="#1f4d5e"/>
<circle cx="210.80" cy="169.00" r="1.15" fill="#1f4d5e"/>
<path d="M239.80,173.90 L241.40,173.90 C241.50,174.08 241.87,174.65 242.00,175.00 C242.13,175.35 241.97,174.93 242.20,176.00 C242.43,177.07 242.97,179.07 243.40,181.40 C243.83,183.73 244.52,187.73 244.80,190.00 C245.08,192.27 245.02,193.35 245.10,195.00 C245.18,196.65 245.28,197.43 245.30,199.90 C245.32,202.37 245.30,207.62 245.20,209.80 C245.10,211.98 244.95,211.90 244.70,213.00 C244.45,214.10 244.00,215.32 243.70,216.40 C243.40,217.48 243.10,218.67 242.90,219.50 C242.70,220.33 242.57,221.08 242.50,221.40 L238.70,221.40 C238.63,221.08 238.50,220.33 238.30,219.50 C238.10,218.67 237.80,217.48 237.50,216.40 C237.20,215.32 236.75,214.10 236.50,213.00 C236.25,211.90 236.10,211.98 236.00,209.80 C235.90,207.62 235.88,202.37 235.90,199.90 C235.92,197.43 236.02,196.65 236.10,195.00 C236.18,193.35 236.12,192.27 236.40,190.00 C236.68,187.73 237.37,183.73 237.80,181.40 C238.23,179.07 238.77,177.07 239.00,176.00 C239.23,174.93 239.07,175.35 239.20,175.00 C239.33,174.65 239.70,174.08 239.80,173.90Z" fill="#f3fbfc" stroke="none"/>
<line x1="240.60" y1="174.90" x2="240.60" y2="220.90" stroke="#a8e2ea" stroke-width="0.8"/>
<rect x="237.00" y="188.40" width="7.20" height="21.30" fill="#d4f1f5"/>
<line x1="237.00" y1="199.10" x2="244.20" y2="199.10" stroke="#86d0dc" stroke-width="1.3"/>
<path d="M239.80,173.90 L241.40,173.90 C241.50,174.08 241.87,174.65 242.00,175.00 C242.13,175.35 241.97,174.93 242.20,176.00 C242.43,177.07 242.97,179.07 243.40,181.40 C243.83,183.73 244.52,187.73 244.80,190.00 C245.08,192.27 245.02,193.35 245.10,195.00 C245.18,196.65 245.28,197.43 245.30,199.90 C245.32,202.37 245.30,207.62 245.20,209.80 C245.10,211.98 244.95,211.90 244.70,213.00 C244.45,214.10 244.00,215.32 243.70,216.40 C243.40,217.48 243.10,218.67 242.90,219.50 C242.70,220.33 242.57,221.08 242.50,221.40 L238.70,221.40 C238.63,221.08 238.50,220.33 238.30,219.50 C238.10,218.67 237.80,217.48 237.50,216.40 C237.20,215.32 236.75,214.10 236.50,213.00 C236.25,211.90 236.10,211.98 236.00,209.80 C235.90,207.62 235.88,202.37 235.90,199.90 C235.92,197.43 236.02,196.65 236.10,195.00 C236.18,193.35 236.12,192.27 236.40,190.00 C236.68,187.73 237.37,183.73 237.80,181.40 C238.23,179.07 238.77,177.07 239.00,176.00 C239.23,174.93 239.07,175.35 239.20,175.00 C239.33,174.65 239.70,174.08 239.80,173.90Z" fill="none" stroke="#3bc2d1" stroke-width="1.10" stroke-linejoin="round"/>
<line x1="181.00" y1="242.50" x2="181.00" y2="245.70" stroke="#262626" stroke-width="1.2"/>
<line x1="210.80" y1="242.50" x2="210.80" y2="245.70" stroke="#262626" stroke-width="1.2"/>
<line x1="240.60" y1="242.50" x2="240.60" y2="245.70" stroke="#262626" stroke-width="1.2"/>
<path d="M162.80,146.00 L162.80,242.50 L254.00,242.50" fill="none" stroke="#262626" stroke-width="1.4"/>
<line x1="282.30" y1="145.55" x2="285.30" y2="145.55" stroke="#262626" stroke-width="1.2"/>
<line x1="282.30" y1="172.05" x2="285.30" y2="172.05" stroke="#262626" stroke-width="1.2"/>
<line x1="282.30" y1="198.55" x2="285.30" y2="198.55" stroke="#262626" stroke-width="1.2"/>
<line x1="282.30" y1="225.05" x2="285.30" y2="225.05" stroke="#262626" stroke-width="1.2"/>
<path d="M301.20,177.20 L302.80,177.20 C302.85,177.42 302.93,176.98 303.10,178.50 C303.27,180.02 303.55,184.38 303.80,186.30 C304.05,188.22 304.30,188.55 304.60,190.00 C304.90,191.45 305.20,193.62 305.60,195.00 C306.00,196.38 306.37,196.38 307.00,198.30 C307.63,200.22 309.22,203.75 309.40,206.50 C309.58,209.25 308.63,211.77 308.10,214.80 C307.57,217.83 306.75,221.95 306.20,224.70 C305.65,227.45 305.20,229.65 304.80,231.30 C304.40,232.95 303.97,234.05 303.80,234.60 L300.20,234.60 C300.03,234.05 299.60,232.95 299.20,231.30 C298.80,229.65 298.35,227.45 297.80,224.70 C297.25,221.95 296.43,217.83 295.90,214.80 C295.37,211.77 294.42,209.25 294.60,206.50 C294.78,203.75 296.37,200.22 297.00,198.30 C297.63,196.38 298.00,196.38 298.40,195.00 C298.80,193.62 299.10,191.45 299.40,190.00 C299.70,188.55 299.95,188.22 300.20,186.30 C300.45,184.38 300.73,180.02 300.90,178.50 C301.07,176.98 301.15,177.42 301.20,177.20Z" fill="#fef5f7" stroke="none"/>
<line x1="302.00" y1="178.20" x2="302.00" y2="234.10" stroke="#f3bfcd" stroke-width="0.8"/>
<rect x="298.10" y="202.40" width="7.80" height="18.20" fill="#fbd1db"/>
<line x1="298.10" y1="210.20" x2="305.90" y2="210.20" stroke="#ef9fb3" stroke-width="1.3"/>
<path d="M301.20,177.20 L302.80,177.20 C302.85,177.42 302.93,176.98 303.10,178.50 C303.27,180.02 303.55,184.38 303.80,186.30 C304.05,188.22 304.30,188.55 304.60,190.00 C304.90,191.45 305.20,193.62 305.60,195.00 C306.00,196.38 306.37,196.38 307.00,198.30 C307.63,200.22 309.22,203.75 309.40,206.50 C309.58,209.25 308.63,211.77 308.10,214.80 C307.57,217.83 306.75,221.95 306.20,224.70 C305.65,227.45 305.20,229.65 304.80,231.30 C304.40,232.95 303.97,234.05 303.80,234.60 L300.20,234.60 C300.03,234.05 299.60,232.95 299.20,231.30 C298.80,229.65 298.35,227.45 297.80,224.70 C297.25,221.95 296.43,217.83 295.90,214.80 C295.37,211.77 294.42,209.25 294.60,206.50 C294.78,203.75 296.37,200.22 297.00,198.30 C297.63,196.38 298.00,196.38 298.40,195.00 C298.80,193.62 299.10,191.45 299.40,190.00 C299.70,188.55 299.95,188.22 300.20,186.30 C300.45,184.38 300.73,180.02 300.90,178.50 C301.07,176.98 301.15,177.42 301.20,177.20Z" fill="none" stroke="#db365f" stroke-width="1.10" stroke-linejoin="round"/>
<path d="M330.85,150.80 L331.75,150.80 C331.75,154.00 331.73,166.00 331.75,170.00 C331.77,174.00 331.76,173.13 331.90,174.80 C332.04,176.47 332.37,178.30 332.60,180.00 C332.83,181.70 333.07,183.33 333.30,185.00 C333.53,186.67 333.52,188.07 334.00,190.00 C334.48,191.93 335.57,194.40 336.20,196.60 C336.83,198.80 337.52,201.30 337.80,203.20 C338.08,205.10 337.98,206.35 337.90,208.00 C337.82,209.65 337.57,211.60 337.30,213.10 C337.03,214.60 336.65,215.62 336.30,217.00 C335.95,218.38 335.68,219.28 335.20,221.40 C334.72,223.52 333.87,227.52 333.40,229.70 C332.93,231.88 332.70,232.98 332.40,234.50 C332.10,236.02 331.73,238.08 331.60,238.80 L331.00,238.80 C330.87,238.08 330.50,236.02 330.20,234.50 C329.90,232.98 329.67,231.88 329.20,229.70 C328.73,227.52 327.88,223.52 327.40,221.40 C326.92,219.28 326.65,218.38 326.30,217.00 C325.95,215.62 325.57,214.60 325.30,213.10 C325.03,211.60 324.78,209.65 324.70,208.00 C324.62,206.35 324.52,205.10 324.80,203.20 C325.08,201.30 325.77,198.80 326.40,196.60 C327.03,194.40 328.12,191.93 328.60,190.00 C329.08,188.07 329.07,186.67 329.30,185.00 C329.53,183.33 329.77,181.70 330.00,180.00 C330.23,178.30 330.56,176.47 330.70,174.80 C330.84,173.13 330.83,174.00 330.85,170.00 C330.88,166.00 330.85,154.00 330.85,150.80Z" fill="#f4f9fa" stroke="none"/>
<line x1="331.30" y1="169.30" x2="331.30" y2="238.30" stroke="#b2d3da" stroke-width="0.8"/>
<rect x="327.50" y="196.60" width="7.60" height="18.20" fill="#cfe5eb"/>
<line x1="327.50" y1="204.50" x2="335.10" y2="204.50" stroke="#82bcc6" stroke-width="1.3"/>
<path d="M330.85,150.80 L331.75,150.80 C331.75,154.00 331.73,166.00 331.75,170.00 C331.77,174.00 331.76,173.13 331.90,174.80 C332.04,176.47 332.37,178.30 332.60,180.00 C332.83,181.70 333.07,183.33 333.30,185.00 C333.53,186.67 333.52,188.07 334.00,190.00 C334.48,191.93 335.57,194.40 336.20,196.60 C336.83,198.80 337.52,201.30 337.80,203.20 C338.08,205.10 337.98,206.35 337.90,208.00 C337.82,209.65 337.57,211.60 337.30,213.10 C337.03,214.60 336.65,215.62 336.30,217.00 C335.95,218.38 335.68,219.28 335.20,221.40 C334.72,223.52 333.87,227.52 333.40,229.70 C332.93,231.88 332.70,232.98 332.40,234.50 C332.10,236.02 331.73,238.08 331.60,238.80 L331.00,238.80 C330.87,238.08 330.50,236.02 330.20,234.50 C329.90,232.98 329.67,231.88 329.20,229.70 C328.73,227.52 327.88,223.52 327.40,221.40 C326.92,219.28 326.65,218.38 326.30,217.00 C325.95,215.62 325.57,214.60 325.30,213.10 C325.03,211.60 324.78,209.65 324.70,208.00 C324.62,206.35 324.52,205.10 324.80,203.20 C325.08,201.30 325.77,198.80 326.40,196.60 C327.03,194.40 328.12,191.93 328.60,190.00 C329.08,188.07 329.07,186.67 329.30,185.00 C329.53,183.33 329.77,181.70 330.00,180.00 C330.23,178.30 330.56,176.47 330.70,174.80 C330.84,173.13 330.83,174.00 330.85,170.00 C330.88,166.00 330.85,154.00 330.85,150.80Z" fill="none" stroke="#2b7691" stroke-width="1.10" stroke-linejoin="round"/>
<circle cx="331.30" cy="151.00" r="1.15" fill="#1f4d5e"/>
<circle cx="331.30" cy="165.70" r="1.15" fill="#1f4d5e"/>
<path d="M359.74,162.40 L361.06,162.40 C361.12,162.63 361.33,162.87 361.43,163.80 C361.53,164.73 361.57,166.45 361.65,168.00 C361.73,169.55 361.57,170.87 361.90,173.10 C362.22,175.33 363.08,179.25 363.60,181.40 C364.12,183.55 364.58,184.57 365.00,186.00 C365.42,187.43 365.78,188.50 366.10,190.00 C366.42,191.50 366.93,192.80 366.90,195.00 C366.87,197.20 366.35,200.73 365.90,203.20 C365.45,205.67 364.63,208.25 364.20,209.80 C363.77,211.35 363.52,211.88 363.30,212.50 C363.08,213.12 362.97,213.33 362.90,213.50 L357.90,213.50 C357.83,213.33 357.72,213.12 357.50,212.50 C357.28,211.88 357.03,211.35 356.60,209.80 C356.17,208.25 355.35,205.67 354.90,203.20 C354.45,200.73 353.93,197.20 353.90,195.00 C353.87,192.80 354.38,191.50 354.70,190.00 C355.02,188.50 355.38,187.43 355.80,186.00 C356.22,184.57 356.68,183.55 357.20,181.40 C357.72,179.25 358.57,175.33 358.90,173.10 C359.22,170.87 359.07,169.55 359.15,168.00 C359.23,166.45 359.27,164.73 359.37,163.80 C359.47,162.87 359.68,162.63 359.74,162.40Z" fill="#f3fbfc" stroke="none"/>
<line x1="360.40" y1="163.40" x2="360.40" y2="213.00" stroke="#a8e2ea" stroke-width="0.8"/>
<rect x="356.90" y="188.00" width="7.00" height="18.50" fill="#d4f1f5"/>
<line x1="356.90" y1="195.80" x2="363.90" y2="195.80" stroke="#86d0dc" stroke-width="1.3"/>
<path d="M359.74,162.40 L361.06,162.40 C361.12,162.63 361.33,162.87 361.43,163.80 C361.53,164.73 361.57,166.45 361.65,168.00 C361.73,169.55 361.57,170.87 361.90,173.10 C362.22,175.33 363.08,179.25 363.60,181.40 C364.12,183.55 364.58,184.57 365.00,186.00 C365.42,187.43 365.78,188.50 366.10,190.00 C366.42,191.50 366.93,192.80 366.90,195.00 C366.87,197.20 366.35,200.73 365.90,203.20 C365.45,205.67 364.63,208.25 364.20,209.80 C363.77,211.35 363.52,211.88 363.30,212.50 C363.08,213.12 362.97,213.33 362.90,213.50 L357.90,213.50 C357.83,213.33 357.72,213.12 357.50,212.50 C357.28,211.88 357.03,211.35 356.60,209.80 C356.17,208.25 355.35,205.67 354.90,203.20 C354.45,200.73 353.93,197.20 353.90,195.00 C353.87,192.80 354.38,191.50 354.70,190.00 C355.02,188.50 355.38,187.43 355.80,186.00 C356.22,184.57 356.68,183.55 357.20,181.40 C357.72,179.25 358.57,175.33 358.90,173.10 C359.22,170.87 359.07,169.55 359.15,168.00 C359.23,166.45 359.27,164.73 359.37,163.80 C359.47,162.87 359.68,162.63 359.74,162.40Z" fill="none" stroke="#3bc2d1" stroke-width="1.10" stroke-linejoin="round"/>
<line x1="302.00" y1="242.50" x2="302.00" y2="245.70" stroke="#262626" stroke-width="1.2"/>
<line x1="331.30" y1="242.50" x2="331.30" y2="245.70" stroke="#262626" stroke-width="1.2"/>
<line x1="360.40" y1="242.50" x2="360.40" y2="245.70" stroke="#262626" stroke-width="1.2"/>
<path d="M285.30,144.30 L285.30,242.50 L376.80,242.50" fill="none" stroke="#262626" stroke-width="1.4"/>
<line x1="404.20" y1="150.15" x2="407.20" y2="150.15" stroke="#262626" stroke-width="1.2"/>
<line x1="404.20" y1="167.75" x2="407.20" y2="167.75" stroke="#262626" stroke-width="1.2"/>
<line x1="404.20" y1="185.35" x2="407.20" y2="185.35" stroke="#262626" stroke-width="1.2"/>
<line x1="404.20" y1="202.95" x2="407.20" y2="202.95" stroke="#262626" stroke-width="1.2"/>
<line x1="404.20" y1="220.55" x2="407.20" y2="220.55" stroke="#262626" stroke-width="1.2"/>
<line x1="404.20" y1="238.15" x2="407.20" y2="238.15" stroke="#262626" stroke-width="1.2"/>
<path d="M423.89,192.50 L425.11,192.50 C425.14,192.75 425.22,193.03 425.27,194.00 C425.32,194.97 425.31,196.22 425.43,198.30 C425.55,200.38 425.69,203.75 426.00,206.50 C426.31,209.25 426.77,212.03 427.30,214.80 C427.83,217.57 428.62,220.35 429.20,223.10 C429.78,225.85 430.47,229.40 430.80,231.30 C431.13,233.20 431.22,233.65 431.20,234.50 C431.18,235.35 431.02,235.97 430.70,236.40 C430.38,236.83 429.53,236.98 429.30,237.10 L419.70,237.10 C419.47,236.98 418.62,236.83 418.30,236.40 C417.98,235.97 417.82,235.35 417.80,234.50 C417.78,233.65 417.87,233.20 418.20,231.30 C418.53,229.40 419.22,225.85 419.80,223.10 C420.38,220.35 421.17,217.57 421.70,214.80 C422.23,212.03 422.69,209.25 423.00,206.50 C423.31,203.75 423.45,200.38 423.57,198.30 C423.69,196.22 423.68,194.97 423.73,194.00 C423.78,193.03 423.86,192.75 423.89,192.50Z" fill="#fef5f7" stroke="none"/>
<line x1="424.50" y1="203.30" x2="424.50" y2="236.60" stroke="#f3bfcd" stroke-width="0.8"/>
<rect x="420.80" y="223.10" width="7.40" height="13.20" fill="#fbd1db"/>
<line x1="420.80" y1="229.70" x2="428.20" y2="229.70" stroke="#ef9fb3" stroke-width="1.3"/>
<path d="M423.89,192.50 L425.11,192.50 C425.14,192.75 425.22,193.03 425.27,194.00 C425.32,194.97 425.31,196.22 425.43,198.30 C425.55,200.38 425.69,203.75 426.00,206.50 C426.31,209.25 426.77,212.03 427.30,214.80 C427.83,217.57 428.62,220.35 429.20,223.10 C429.78,225.85 430.47,229.40 430.80,231.30 C431.13,233.20 431.22,233.65 431.20,234.50 C431.18,235.35 431.02,235.97 430.70,236.40 C430.38,236.83 429.53,236.98 429.30,237.10 L419.70,237.10 C419.47,236.98 418.62,236.83 418.30,236.40 C417.98,235.97 417.82,235.35 417.80,234.50 C417.78,233.65 417.87,233.20 418.20,231.30 C418.53,229.40 419.22,225.85 419.80,223.10 C420.38,220.35 421.17,217.57 421.70,214.80 C422.23,212.03 422.69,209.25 423.00,206.50 C423.31,203.75 423.45,200.38 423.57,198.30 C423.69,196.22 423.68,194.97 423.73,194.00 C423.78,193.03 423.86,192.75 423.89,192.50Z" fill="none" stroke="#db365f" stroke-width="1.10" stroke-linejoin="round"/>
<circle cx="424.50" cy="192.70" r="1.15" fill="#9c2b4e"/>
<path d="M453.05,153.60 L453.95,153.60 C453.95,159.00 453.92,179.93 453.95,186.00 C453.98,192.07 454.02,187.68 454.11,190.00 C454.20,192.32 454.27,196.60 454.48,199.90 C454.69,203.20 455.01,206.77 455.40,209.80 C455.79,212.83 456.37,215.07 456.80,218.10 C457.23,221.13 457.67,225.25 458.00,228.00 C458.33,230.75 458.68,233.13 458.80,234.60 C458.92,236.07 458.90,236.25 458.70,236.80 C458.50,237.35 457.78,237.72 457.60,237.90 L449.40,237.90 C449.22,237.72 448.50,237.35 448.30,236.80 C448.10,236.25 448.08,236.07 448.20,234.60 C448.32,233.13 448.67,230.75 449.00,228.00 C449.33,225.25 449.77,221.13 450.20,218.10 C450.63,215.07 451.21,212.83 451.60,209.80 C451.99,206.77 452.31,203.20 452.52,199.90 C452.73,196.60 452.80,192.32 452.89,190.00 C452.98,187.68 453.02,192.07 453.05,186.00 C453.08,179.93 453.05,159.00 453.05,153.60Z" fill="#f4f9fa" stroke="none"/>
<line x1="453.50" y1="182.05" x2="453.50" y2="237.40" stroke="#b2d3da" stroke-width="0.8"/>
<rect x="449.50" y="213.10" width="8.00" height="20.70" fill="#cfe5eb"/>
<line x1="449.50" y1="225.50" x2="457.50" y2="225.50" stroke="#82bcc6" stroke-width="1.3"/>
<path d="M453.05,153.60 L453.95,153.60 C453.95,159.00 453.92,179.93 453.95,186.00 C453.98,192.07 454.02,187.68 454.11,190.00 C454.20,192.32 454.27,196.60 454.48,199.90 C454.69,203.20 455.01,206.77 455.40,209.80 C455.79,212.83 456.37,215.07 456.80,218.10 C457.23,221.13 457.67,225.25 458.00,228.00 C458.33,230.75 458.68,233.13 458.80,234.60 C458.92,236.07 458.90,236.25 458.70,236.80 C458.50,237.35 457.78,237.72 457.60,237.90 L449.40,237.90 C449.22,237.72 448.50,237.35 448.30,236.80 C448.10,236.25 448.08,236.07 448.20,234.60 C448.32,233.13 448.67,230.75 449.00,228.00 C449.33,225.25 449.77,221.13 450.20,218.10 C450.63,215.07 451.21,212.83 451.60,209.80 C451.99,206.77 452.31,203.20 452.52,199.90 C452.73,196.60 452.80,192.32 452.89,190.00 C452.98,187.68 453.02,192.07 453.05,186.00 C453.08,179.93 453.05,159.00 453.05,153.60Z" fill="none" stroke="#2b7691" stroke-width="1.10" stroke-linejoin="round"/>
<circle cx="453.50" cy="153.80" r="1.15" fill="#1f4d5e"/>
<circle cx="453.50" cy="164.50" r="1.15" fill="#1f4d5e"/>
<circle cx="453.50" cy="175.60" r="1.15" fill="#1f4d5e"/>
<circle cx="453.50" cy="183.80" r="1.15" fill="#1f4d5e"/>
<path d="M480.70,190.20 L484.50,190.20 C484.55,190.33 484.77,189.38 484.80,191.00 C484.83,192.62 484.73,197.57 484.70,199.90 C484.67,202.23 484.55,203.35 484.60,205.00 C484.65,206.65 484.85,208.13 485.00,209.80 C485.15,211.47 485.37,213.33 485.50,215.00 C485.63,216.67 485.75,218.30 485.80,219.80 C485.85,221.30 485.85,222.63 485.80,224.00 C485.75,225.37 485.63,226.75 485.50,228.00 C485.37,229.25 485.17,230.58 485.00,231.50 C484.83,232.42 484.58,233.17 484.50,233.50 L480.70,233.50 C480.62,233.17 480.37,232.42 480.20,231.50 C480.03,230.58 479.83,229.25 479.70,228.00 C479.57,226.75 479.45,225.37 479.40,224.00 C479.35,222.63 479.35,221.30 479.40,219.80 C479.45,218.30 479.57,216.67 479.70,215.00 C479.83,213.33 480.05,211.47 480.20,209.80 C480.35,208.13 480.55,206.65 480.60,205.00 C480.65,203.35 480.53,202.23 480.50,199.90 C480.47,197.57 480.37,192.62 480.40,191.00 C480.43,189.38 480.65,190.33 480.70,190.20Z" fill="#f3fbfc" stroke="none"/>
<line x1="482.60" y1="191.20" x2="482.60" y2="233.00" stroke="#a8e2ea" stroke-width="0.8"/>
<rect x="479.70" y="209.00" width="5.80" height="14.90" fill="#d4f1f5"/>
<line x1="479.70" y1="217.30" x2="485.50" y2="217.30" stroke="#86d0dc" stroke-width="1.3"/>
<path d="M480.70,190.20 L484.50,190.20 C484.55,190.33 484.77,189.38 484.80,191.00 C484.83,192.62 484.73,197.57 484.70,199.90 C484.67,202.23 484.55,203.35 484.60,205.00 C484.65,206.65 484.85,208.13 485.00,209.80 C485.15,211.47 485.37,213.33 485.50,215.00 C485.63,216.67 485.75,218.30 485.80,219.80 C485.85,221.30 485.85,222.63 485.80,224.00 C485.75,225.37 485.63,226.75 485.50,228.00 C485.37,229.25 485.17,230.58 485.00,231.50 C484.83,232.42 484.58,233.17 484.50,233.50 L480.70,233.50 C480.62,233.17 480.37,232.42 480.20,231.50 C480.03,230.58 479.83,229.25 479.70,228.00 C479.57,226.75 479.45,225.37 479.40,224.00 C479.35,222.63 479.35,221.30 479.40,219.80 C479.45,218.30 479.57,216.67 479.70,215.00 C479.83,213.33 480.05,211.47 480.20,209.80 C480.35,208.13 480.55,206.65 480.60,205.00 C480.65,203.35 480.53,202.23 480.50,199.90 C480.47,197.57 480.37,192.62 480.40,191.00 C480.43,189.38 480.65,190.33 480.70,190.20Z" fill="none" stroke="#3bc2d1" stroke-width="1.10" stroke-linejoin="round"/>
<line x1="424.50" y1="242.50" x2="424.50" y2="245.70" stroke="#262626" stroke-width="1.2"/>
<line x1="453.50" y1="242.50" x2="453.50" y2="245.70" stroke="#262626" stroke-width="1.2"/>
<line x1="482.60" y1="242.50" x2="482.60" y2="245.70" stroke="#262626" stroke-width="1.2"/>
<path d="M407.20,148.30 L407.20,242.50 L498.60,242.50" fill="none" stroke="#262626" stroke-width="1.4"/>
<line x1="43.30" y1="275.50" x2="46.30" y2="275.50" stroke="#262626" stroke-width="1.2"/>
<line x1="43.30" y1="302.10" x2="46.30" y2="302.10" stroke="#262626" stroke-width="1.2"/>
<line x1="43.30" y1="328.70" x2="46.30" y2="328.70" stroke="#262626" stroke-width="1.2"/>
<line x1="43.30" y1="355.30" x2="46.30" y2="355.30" stroke="#262626" stroke-width="1.2"/>
<path d="M70.45,283.40 L71.35,283.40 C71.35,285.83 71.31,294.82 71.35,298.00 C71.39,301.18 71.48,301.08 71.60,302.50 C71.73,303.92 71.88,305.12 72.10,306.50 C72.32,307.88 72.45,309.17 72.90,310.80 C73.35,312.43 74.05,314.73 74.80,316.30 C75.55,317.87 76.62,318.87 77.40,320.20 C78.18,321.53 78.88,322.47 79.50,324.30 C80.12,326.13 80.93,328.88 81.10,331.20 C81.27,333.52 80.73,335.88 80.50,338.20 C80.27,340.52 80.13,343.03 79.70,345.10 C79.27,347.17 78.72,348.52 77.90,350.60 C77.08,352.68 75.65,355.78 74.80,357.60 C73.95,359.42 73.40,360.23 72.80,361.50 C72.20,362.77 71.47,364.58 71.20,365.20 L70.60,365.20 C70.33,364.58 69.60,362.77 69.00,361.50 C68.40,360.23 67.85,359.42 67.00,357.60 C66.15,355.78 64.72,352.68 63.90,350.60 C63.08,348.52 62.53,347.17 62.10,345.10 C61.67,343.03 61.53,340.52 61.30,338.20 C61.07,335.88 60.53,333.52 60.70,331.20 C60.87,328.88 61.68,326.13 62.30,324.30 C62.92,322.47 63.62,321.53 64.40,320.20 C65.18,318.87 66.25,317.87 67.00,316.30 C67.75,314.73 68.45,312.43 68.90,310.80 C69.35,309.17 69.48,307.88 69.70,306.50 C69.92,305.12 70.08,303.92 70.20,302.50 C70.33,301.08 70.41,301.18 70.45,298.00 C70.49,294.82 70.45,285.83 70.45,283.40Z" fill="#fef5f7" stroke="none"/>
<line x1="70.90" y1="294.85" x2="70.90" y2="364.70" stroke="#f3bfcd" stroke-width="0.8"/>
<rect x="64.90" y="325.00" width="12.00" height="20.10" fill="#fbd1db"/>
<line x1="64.90" y1="334.00" x2="76.90" y2="334.00" stroke="#ef9fb3" stroke-width="1.3"/>
<path d="M70.45,283.40 L71.35,283.40 C71.35,285.83 71.31,294.82 71.35,298.00 C71.39,301.18 71.48,301.08 71.60,302.50 C71.73,303.92 71.88,305.12 72.10,306.50 C72.32,307.88 72.45,309.17 72.90,310.80 C73.35,312.43 74.05,314.73 74.80,316.30 C75.55,317.87 76.62,318.87 77.40,320.20 C78.18,321.53 78.88,322.47 79.50,324.30 C80.12,326.13 80.93,328.88 81.10,331.20 C81.27,333.52 80.73,335.88 80.50,338.20 C80.27,340.52 80.13,343.03 79.70,345.10 C79.27,347.17 78.72,348.52 77.90,350.60 C77.08,352.68 75.65,355.78 74.80,357.60 C73.95,359.42 73.40,360.23 72.80,361.50 C72.20,362.77 71.47,364.58 71.20,365.20 L70.60,365.20 C70.33,364.58 69.60,362.77 69.00,361.50 C68.40,360.23 67.85,359.42 67.00,357.60 C66.15,355.78 64.72,352.68 63.90,350.60 C63.08,348.52 62.53,347.17 62.10,345.10 C61.67,343.03 61.53,340.52 61.30,338.20 C61.07,335.88 60.53,333.52 60.70,331.20 C60.87,328.88 61.68,326.13 62.30,324.30 C62.92,322.47 63.62,321.53 64.40,320.20 C65.18,318.87 66.25,317.87 67.00,316.30 C67.75,314.73 68.45,312.43 68.90,310.80 C69.35,309.17 69.48,307.88 69.70,306.50 C69.92,305.12 70.08,303.92 70.20,302.50 C70.33,301.08 70.41,301.18 70.45,298.00 C70.49,294.82 70.45,285.83 70.45,283.40Z" fill="none" stroke="#db365f" stroke-width="1.10" stroke-linejoin="round"/>
<circle cx="70.90" cy="283.60" r="1.15" fill="#9c2b4e"/>
<path d="M112.35,277.80 L113.25,277.80 C113.25,280.17 113.22,288.93 113.25,292.00 C113.28,295.07 113.31,294.70 113.40,296.20 C113.49,297.70 113.65,299.27 113.80,301.00 C113.95,302.73 114.13,305.10 114.30,306.60 C114.47,308.10 114.62,308.83 114.80,310.00 C114.98,311.17 115.17,312.60 115.40,313.60 C115.63,314.60 115.60,314.68 116.20,316.00 C116.80,317.32 118.13,319.65 119.00,321.50 C119.87,323.35 120.83,325.37 121.40,327.10 C121.97,328.83 122.38,330.05 122.40,331.90 C122.42,333.75 121.92,336.00 121.50,338.20 C121.08,340.40 120.53,342.80 119.90,345.10 C119.27,347.40 118.42,349.92 117.70,352.00 C116.98,354.08 116.12,356.27 115.60,357.60 C115.08,358.93 114.83,359.43 114.60,360.00 C114.37,360.57 114.27,360.83 114.20,361.00 L111.40,361.00 C111.33,360.83 111.23,360.57 111.00,360.00 C110.77,359.43 110.52,358.93 110.00,357.60 C109.48,356.27 108.62,354.08 107.90,352.00 C107.18,349.92 106.33,347.40 105.70,345.10 C105.07,342.80 104.52,340.40 104.10,338.20 C103.68,336.00 103.18,333.75 103.20,331.90 C103.22,330.05 103.63,328.83 104.20,327.10 C104.77,325.37 105.73,323.35 106.60,321.50 C107.47,319.65 108.80,317.32 109.40,316.00 C110.00,314.68 109.97,314.60 110.20,313.60 C110.43,312.60 110.62,311.17 110.80,310.00 C110.98,308.83 111.13,308.10 111.30,306.60 C111.47,305.10 111.65,302.73 111.80,301.00 C111.95,299.27 112.11,297.70 112.20,296.20 C112.29,294.70 112.32,295.07 112.35,292.00 C112.38,288.93 112.35,280.17 112.35,277.80Z" fill="#f4f9fa" stroke="none"/>
<line x1="112.80" y1="295.90" x2="112.80" y2="360.50" stroke="#b2d3da" stroke-width="0.8"/>
<rect x="107.00" y="325.00" width="11.60" height="19.40" fill="#cfe5eb"/>
<line x1="107.00" y1="333.30" x2="118.60" y2="333.30" stroke="#82bcc6" stroke-width="1.3"/>
<path d="M112.35,277.80 L113.25,277.80 C113.25,280.17 113.22,288.93 113.25,292.00 C113.28,295.07 113.31,294.70 113.40,296.20 C113.49,297.70 113.65,299.27 113.80,301.00 C113.95,302.73 114.13,305.10 114.30,306.60 C114.47,308.10 114.62,308.83 114.80,310.00 C114.98,311.17 115.17,312.60 115.40,313.60 C115.63,314.60 115.60,314.68 116.20,316.00 C116.80,317.32 118.13,319.65 119.00,321.50 C119.87,323.35 120.83,325.37 121.40,327.10 C121.97,328.83 122.38,330.05 122.40,331.90 C122.42,333.75 121.92,336.00 121.50,338.20 C121.08,340.40 120.53,342.80 119.90,345.10 C119.27,347.40 118.42,349.92 117.70,352.00 C116.98,354.08 116.12,356.27 115.60,357.60 C115.08,358.93 114.83,359.43 114.60,360.00 C114.37,360.57 114.27,360.83 114.20,361.00 L111.40,361.00 C111.33,360.83 111.23,360.57 111.00,360.00 C110.77,359.43 110.52,358.93 110.00,357.60 C109.48,356.27 108.62,354.08 107.90,352.00 C107.18,349.92 106.33,347.40 105.70,345.10 C105.07,342.80 104.52,340.40 104.10,338.20 C103.68,336.00 103.18,333.75 103.20,331.90 C103.22,330.05 103.63,328.83 104.20,327.10 C104.77,325.37 105.73,323.35 106.60,321.50 C107.47,319.65 108.80,317.32 109.40,316.00 C110.00,314.68 109.97,314.60 110.20,313.60 C110.43,312.60 110.62,311.17 110.80,310.00 C110.98,308.83 111.13,308.10 111.30,306.60 C111.47,305.10 111.65,302.73 111.80,301.00 C111.95,299.27 112.11,297.70 112.20,296.20 C112.29,294.70 112.32,295.07 112.35,292.00 C112.38,288.93 112.35,280.17 112.35,277.80Z" fill="none" stroke="#2b7691" stroke-width="1.10" stroke-linejoin="round"/>
<circle cx="112.80" cy="278.00" r="1.15" fill="#1f4d5e"/>
<line x1="70.90" y1="369.40" x2="70.90" y2="372.60" stroke="#262626" stroke-width="1.2"/>
<line x1="112.80" y1="369.40" x2="112.80" y2="372.60" stroke="#262626" stroke-width="1.2"/>
<path d="M46.30,273.30 L46.30,369.40 L137.40,369.40" fill="none" stroke="#262626" stroke-width="1.4"/>
<line x1="159.80" y1="302.20" x2="162.80" y2="302.20" stroke="#262626" stroke-width="1.2"/>
<line x1="159.80" y1="341.50" x2="162.80" y2="341.50" stroke="#262626" stroke-width="1.2"/>
<path d="M187.95,277.80 L188.85,277.80 C188.86,279.83 188.88,286.30 188.90,290.00 C188.93,293.70 188.95,297.58 189.00,300.00 C189.05,302.42 189.08,303.17 189.20,304.50 C189.32,305.83 189.53,306.72 189.70,308.00 C189.87,309.28 189.93,310.87 190.20,312.20 C190.47,313.53 190.60,314.45 191.30,316.00 C192.00,317.55 193.38,319.65 194.40,321.50 C195.42,323.35 196.58,325.13 197.40,327.10 C198.22,329.07 199.17,331.00 199.30,333.30 C199.43,335.60 198.92,338.47 198.20,340.90 C197.48,343.33 196.05,345.35 195.00,347.90 C193.95,350.45 192.73,354.02 191.90,356.20 C191.07,358.38 190.53,359.50 190.00,361.00 C189.47,362.50 188.92,364.50 188.70,365.20 L188.10,365.20 C187.88,364.50 187.33,362.50 186.80,361.00 C186.27,359.50 185.73,358.38 184.90,356.20 C184.07,354.02 182.85,350.45 181.80,347.90 C180.75,345.35 179.32,343.33 178.60,340.90 C177.88,338.47 177.37,335.60 177.50,333.30 C177.63,331.00 178.58,329.07 179.40,327.10 C180.22,325.13 181.38,323.35 182.40,321.50 C183.42,319.65 184.80,317.55 185.50,316.00 C186.20,314.45 186.33,313.53 186.60,312.20 C186.87,310.87 186.93,309.28 187.10,308.00 C187.27,306.72 187.48,305.83 187.60,304.50 C187.72,303.17 187.75,302.42 187.80,300.00 C187.85,297.58 187.88,293.70 187.90,290.00 C187.93,286.30 187.94,279.83 187.95,277.80Z" fill="#fef5f7" stroke="none"/>
<line x1="188.40" y1="300.40" x2="188.40" y2="364.70" stroke="#f3bfcd" stroke-width="0.8"/>
<rect x="182.30" y="326.80" width="12.20" height="17.60" fill="#fbd1db"/>
<line x1="182.30" y1="334.30" x2="194.50" y2="334.30" stroke="#ef9fb3" stroke-width="1.3"/>
<path d="M187.95,277.80 L188.85,277.80 C188.86,279.83 188.88,286.30 188.90,290.00 C188.93,293.70 188.95,297.58 189.00,300.00 C189.05,302.42 189.08,303.17 189.20,304.50 C189.32,305.83 189.53,306.72 189.70,308.00 C189.87,309.28 189.93,310.87 190.20,312.20 C190.47,313.53 190.60,314.45 191.30,316.00 C192.00,317.55 193.38,319.65 194.40,321.50 C195.42,323.35 196.58,325.13 197.40,327.10 C198.22,329.07 199.17,331.00 199.30,333.30 C199.43,335.60 198.92,338.47 198.20,340.90 C197.48,343.33 196.05,345.35 195.00,347.90 C193.95,350.45 192.73,354.02 191.90,356.20 C191.07,358.38 190.53,359.50 190.00,361.00 C189.47,362.50 188.92,364.50 188.70,365.20 L188.10,365.20 C187.88,364.50 187.33,362.50 186.80,361.00 C186.27,359.50 185.73,358.38 184.90,356.20 C184.07,354.02 182.85,350.45 181.80,347.90 C180.75,345.35 179.32,343.33 178.60,340.90 C177.88,338.47 177.37,335.60 177.50,333.30 C177.63,331.00 178.58,329.07 179.40,327.10 C180.22,325.13 181.38,323.35 182.40,321.50 C183.42,319.65 184.80,317.55 185.50,316.00 C186.20,314.45 186.33,313.53 186.60,312.20 C186.87,310.87 186.93,309.28 187.10,308.00 C187.27,306.72 187.48,305.83 187.60,304.50 C187.72,303.17 187.75,302.42 187.80,300.00 C187.85,297.58 187.88,293.70 187.90,290.00 C187.93,286.30 187.94,279.83 187.95,277.80Z" fill="none" stroke="#db365f" stroke-width="1.10" stroke-linejoin="round"/>
<circle cx="188.40" cy="278.00" r="1.15" fill="#9c2b4e"/>
<path d="M231.50,286.50 L232.70,286.50 C232.70,287.08 232.70,288.08 232.70,290.00 C232.70,291.92 232.68,296.15 232.70,298.00 C232.72,299.85 232.77,299.93 232.80,301.10 C232.83,302.27 232.82,303.38 232.90,305.00 C232.98,306.62 233.10,308.97 233.30,310.80 C233.50,312.63 233.60,313.98 234.10,316.00 C234.60,318.02 235.37,320.37 236.30,322.90 C237.23,325.43 238.70,328.53 239.70,331.20 C240.70,333.87 242.03,336.58 242.30,338.90 C242.57,341.22 241.90,342.92 241.30,345.10 C240.70,347.28 239.63,349.92 238.70,352.00 C237.77,354.08 236.40,356.33 235.70,357.60 C235.00,358.87 234.70,359.27 234.50,359.60 L229.70,359.60 C229.50,359.27 229.20,358.87 228.50,357.60 C227.80,356.33 226.43,354.08 225.50,352.00 C224.57,349.92 223.50,347.28 222.90,345.10 C222.30,342.92 221.63,341.22 221.90,338.90 C222.17,336.58 223.50,333.87 224.50,331.20 C225.50,328.53 226.97,325.43 227.90,322.90 C228.83,320.37 229.60,318.02 230.10,316.00 C230.60,313.98 230.70,312.63 230.90,310.80 C231.10,308.97 231.22,306.62 231.30,305.00 C231.38,303.38 231.37,302.27 231.40,301.10 C231.43,299.93 231.48,299.85 231.50,298.00 C231.52,296.15 231.50,291.92 231.50,290.00 C231.50,288.08 231.50,287.08 231.50,286.50Z" fill="#f4f9fa" stroke="none"/>
<line x1="232.10" y1="299.40" x2="232.10" y2="359.10" stroke="#b2d3da" stroke-width="0.8"/>
<rect x="226.30" y="326.40" width="11.60" height="18.00" fill="#cfe5eb"/>
<line x1="226.30" y1="337.50" x2="237.90" y2="337.50" stroke="#82bcc6" stroke-width="1.3"/>
<path d="M231.50,286.50 L232.70,286.50 C232.70,287.08 232.70,288.08 232.70,290.00 C232.70,291.92 232.68,296.15 232.70,298.00 C232.72,299.85 232.77,299.93 232.80,301.10 C232.83,302.27 232.82,303.38 232.90,305.00 C232.98,306.62 233.10,308.97 233.30,310.80 C233.50,312.63 233.60,313.98 234.10,316.00 C234.60,318.02 235.37,320.37 236.30,322.90 C237.23,325.43 238.70,328.53 239.70,331.20 C240.70,333.87 242.03,336.58 242.30,338.90 C242.57,341.22 241.90,342.92 241.30,345.10 C240.70,347.28 239.63,349.92 238.70,352.00 C237.77,354.08 236.40,356.33 235.70,357.60 C235.00,358.87 234.70,359.27 234.50,359.60 L229.70,359.60 C229.50,359.27 229.20,358.87 228.50,357.60 C227.80,356.33 226.43,354.08 225.50,352.00 C224.57,349.92 223.50,347.28 222.90,345.10 C222.30,342.92 221.63,341.22 221.90,338.90 C222.17,336.58 223.50,333.87 224.50,331.20 C225.50,328.53 226.97,325.43 227.90,322.90 C228.83,320.37 229.60,318.02 230.10,316.00 C230.60,313.98 230.70,312.63 230.90,310.80 C231.10,308.97 231.22,306.62 231.30,305.00 C231.38,303.38 231.37,302.27 231.40,301.10 C231.43,299.93 231.48,299.85 231.50,298.00 C231.52,296.15 231.50,291.92 231.50,290.00 C231.50,288.08 231.50,287.08 231.50,286.50Z" fill="none" stroke="#2b7691" stroke-width="1.10" stroke-linejoin="round"/>
<circle cx="232.10" cy="286.60" r="1.15" fill="#1f4d5e"/>
<line x1="188.40" y1="369.40" x2="188.40" y2="372.60" stroke="#262626" stroke-width="1.2"/>
<line x1="232.10" y1="369.40" x2="232.10" y2="372.60" stroke="#262626" stroke-width="1.2"/>
<path d="M162.80,273.00 L162.80,369.40 L254.00,369.40" fill="none" stroke="#262626" stroke-width="1.4"/>
<line x1="282.30" y1="272.30" x2="285.30" y2="272.30" stroke="#262626" stroke-width="1.2"/>
<line x1="282.30" y1="298.80" x2="285.30" y2="298.80" stroke="#262626" stroke-width="1.2"/>
<line x1="282.30" y1="325.30" x2="285.30" y2="325.30" stroke="#262626" stroke-width="1.2"/>
<line x1="282.30" y1="351.80" x2="285.30" y2="351.80" stroke="#262626" stroke-width="1.2"/>
<path d="M309.37,292.10 L311.03,292.10 C311.06,292.33 311.17,292.23 311.23,293.50 C311.29,294.77 311.12,297.28 311.37,299.70 C311.62,302.12 312.08,305.47 312.70,308.00 C313.32,310.53 314.15,312.65 315.10,314.90 C316.05,317.15 317.57,319.47 318.40,321.50 C319.23,323.53 319.73,325.37 320.10,327.10 C320.47,328.83 320.72,329.83 320.60,331.90 C320.48,333.97 320.07,337.07 319.40,339.50 C318.73,341.93 317.58,343.95 316.60,346.50 C315.62,349.05 314.37,352.27 313.50,354.80 C312.63,357.33 311.87,359.97 311.37,361.70 C310.87,363.43 310.64,364.62 310.50,365.20 L309.90,365.20 C309.75,364.62 309.53,363.43 309.03,361.70 C308.53,359.97 307.77,357.33 306.90,354.80 C306.03,352.27 304.78,349.05 303.80,346.50 C302.82,343.95 301.67,341.93 301.00,339.50 C300.33,337.07 299.92,333.97 299.80,331.90 C299.68,329.83 299.93,328.83 300.30,327.10 C300.67,325.37 301.17,323.53 302.00,321.50 C302.83,319.47 304.35,317.15 305.30,314.90 C306.25,312.65 307.08,310.53 307.70,308.00 C308.32,305.47 308.78,302.12 309.03,299.70 C309.27,297.28 309.11,294.77 309.17,293.50 C309.23,292.23 309.34,292.33 309.37,292.10Z" fill="#fef5f7" stroke="none"/>
<line x1="310.20" y1="294.45" x2="310.20" y2="364.70" stroke="#f3bfcd" stroke-width="0.8"/>
<rect x="304.00" y="324.00" width="12.40" height="19.70" fill="#fbd1db"/>
<line x1="304.00" y1="332.90" x2="316.40" y2="332.90" stroke="#ef9fb3" stroke-width="1.3"/>
<path d="M309.37,292.10 L311.03,292.10 C311.06,292.33 311.17,292.23 311.23,293.50 C311.29,294.77 311.12,297.28 311.37,299.70 C311.62,302.12 312.08,305.47 312.70,308.00 C313.32,310.53 314.15,312.65 315.10,314.90 C316.05,317.15 317.57,319.47 318.40,321.50 C319.23,323.53 319.73,325.37 320.10,327.10 C320.47,328.83 320.72,329.83 320.60,331.90 C320.48,333.97 320.07,337.07 319.40,339.50 C318.73,341.93 317.58,343.95 316.60,346.50 C315.62,349.05 314.37,352.27 313.50,354.80 C312.63,357.33 311.87,359.97 311.37,361.70 C310.87,363.43 310.64,364.62 310.50,365.20 L309.90,365.20 C309.75,364.62 309.53,363.43 309.03,361.70 C308.53,359.97 307.77,357.33 306.90,354.80 C306.03,352.27 304.78,349.05 303.80,346.50 C302.82,343.95 301.67,341.93 301.00,339.50 C300.33,337.07 299.92,333.97 299.80,331.90 C299.68,329.83 299.93,328.83 300.30,327.10 C300.67,325.37 301.17,323.53 302.00,321.50 C302.83,319.47 304.35,317.15 305.30,314.90 C306.25,312.65 307.08,310.53 307.70,308.00 C308.32,305.47 308.78,302.12 309.03,299.70 C309.27,297.28 309.11,294.77 309.17,293.50 C309.23,292.23 309.34,292.33 309.37,292.10Z" fill="none" stroke="#db365f" stroke-width="1.10" stroke-linejoin="round"/>
<path d="M352.05,277.50 L352.95,277.50 C352.95,279.58 352.93,287.22 352.95,290.00 C352.97,292.78 353.00,292.70 353.09,294.20 C353.18,295.70 353.29,297.38 353.52,299.00 C353.75,300.62 353.96,301.70 354.45,303.90 C354.94,306.10 355.88,310.18 356.45,312.20 C357.02,314.22 357.27,314.22 357.85,316.00 C358.43,317.78 359.30,320.58 359.95,322.90 C360.60,325.22 361.35,327.82 361.75,329.90 C362.15,331.98 362.55,333.33 362.35,335.40 C362.15,337.47 361.38,340.00 360.55,342.30 C359.72,344.60 358.28,347.12 357.35,349.20 C356.42,351.28 355.50,353.40 354.95,354.80 C354.40,356.20 354.20,357.13 354.05,357.60 L350.95,357.60 C350.80,357.13 350.60,356.20 350.05,354.80 C349.50,353.40 348.58,351.28 347.65,349.20 C346.72,347.12 345.28,344.60 344.45,342.30 C343.62,340.00 342.85,337.47 342.65,335.40 C342.45,333.33 342.85,331.98 343.25,329.90 C343.65,327.82 344.40,325.22 345.05,322.90 C345.70,320.58 346.57,317.78 347.15,316.00 C347.73,314.22 347.98,314.22 348.55,312.20 C349.12,310.18 350.06,306.10 350.55,303.90 C351.04,301.70 351.25,300.62 351.48,299.00 C351.71,297.38 351.82,295.70 351.91,294.20 C352.00,292.70 352.03,292.78 352.05,290.00 C352.07,287.22 352.05,279.58 352.05,277.50Z" fill="#f4f9fa" stroke="none"/>
<line x1="352.50" y1="292.95" x2="352.50" y2="357.10" stroke="#b2d3da" stroke-width="0.8"/>
<rect x="346.30" y="321.30" width="12.40" height="18.90" fill="#cfe5eb"/>
<line x1="346.30" y1="329.90" x2="358.70" y2="329.90" stroke="#82bcc6" stroke-width="1.3"/>
<path d="M352.05,277.50 L352.95,277.50 C352.95,279.58 352.93,287.22 352.95,290.00 C352.97,292.78 353.00,292.70 353.09,294.20 C353.18,295.70 353.29,297.38 353.52,299.00 C353.75,300.62 353.96,301.70 354.45,303.90 C354.94,306.10 355.88,310.18 356.45,312.20 C357.02,314.22 357.27,314.22 357.85,316.00 C358.43,317.78 359.30,320.58 359.95,322.90 C360.60,325.22 361.35,327.82 361.75,329.90 C362.15,331.98 362.55,333.33 362.35,335.40 C362.15,337.47 361.38,340.00 360.55,342.30 C359.72,344.60 358.28,347.12 357.35,349.20 C356.42,351.28 355.50,353.40 354.95,354.80 C354.40,356.20 354.20,357.13 354.05,357.60 L350.95,357.60 C350.80,357.13 350.60,356.20 350.05,354.80 C349.50,353.40 348.58,351.28 347.65,349.20 C346.72,347.12 345.28,344.60 344.45,342.30 C343.62,340.00 342.85,337.47 342.65,335.40 C342.45,333.33 342.85,331.98 343.25,329.90 C343.65,327.82 344.40,325.22 345.05,322.90 C345.70,320.58 346.57,317.78 347.15,316.00 C347.73,314.22 347.98,314.22 348.55,312.20 C349.12,310.18 350.06,306.10 350.55,303.90 C351.04,301.70 351.25,300.62 351.48,299.00 C351.71,297.38 351.82,295.70 351.91,294.20 C352.00,292.70 352.03,292.78 352.05,290.00 C352.07,287.22 352.05,279.58 352.05,277.50Z" fill="none" stroke="#2b7691" stroke-width="1.10" stroke-linejoin="round"/>
<circle cx="352.50" cy="277.70" r="1.15" fill="#1f4d5e"/>
<line x1="310.20" y1="369.40" x2="310.20" y2="372.60" stroke="#262626" stroke-width="1.2"/>
<line x1="352.50" y1="369.40" x2="352.50" y2="372.60" stroke="#262626" stroke-width="1.2"/>
<path d="M285.30,270.80 L285.30,369.40 L376.80,369.40" fill="none" stroke="#262626" stroke-width="1.4"/>
<line x1="404.20" y1="276.90" x2="407.20" y2="276.90" stroke="#262626" stroke-width="1.2"/>
<line x1="404.20" y1="294.50" x2="407.20" y2="294.50" stroke="#262626" stroke-width="1.2"/>
<line x1="404.20" y1="312.10" x2="407.20" y2="312.10" stroke="#262626" stroke-width="1.2"/>
<line x1="404.20" y1="329.70" x2="407.20" y2="329.70" stroke="#262626" stroke-width="1.2"/>
<line x1="404.20" y1="347.30" x2="407.20" y2="347.30" stroke="#262626" stroke-width="1.2"/>
<line x1="404.20" y1="364.90" x2="407.20" y2="364.90" stroke="#262626" stroke-width="1.2"/>
<path d="M431.75,290.00 L432.65,290.00 C432.65,292.50 432.61,301.67 432.65,305.00 C432.69,308.33 432.77,308.17 432.86,310.00 C432.95,311.83 433.08,313.62 433.18,316.00 C433.28,318.38 433.25,321.53 433.45,324.30 C433.65,327.07 433.92,330.07 434.40,332.60 C434.88,335.13 435.52,337.42 436.30,339.50 C437.08,341.58 438.37,343.25 439.10,345.10 C439.83,346.95 440.20,348.30 440.70,350.60 C441.20,352.90 441.90,356.87 442.10,358.90 C442.30,360.93 442.13,361.85 441.90,362.80 C441.67,363.75 441.10,364.20 440.70,364.60 C440.30,365.00 439.70,365.10 439.50,365.20 L424.90,365.20 C424.70,365.10 424.10,365.00 423.70,364.60 C423.30,364.20 422.73,363.75 422.50,362.80 C422.27,361.85 422.10,360.93 422.30,358.90 C422.50,356.87 423.20,352.90 423.70,350.60 C424.20,348.30 424.57,346.95 425.30,345.10 C426.03,343.25 427.32,341.58 428.10,339.50 C428.88,337.42 429.52,335.13 430.00,332.60 C430.48,330.07 430.75,327.07 430.95,324.30 C431.15,321.53 431.12,318.38 431.22,316.00 C431.32,313.62 431.45,311.83 431.54,310.00 C431.63,308.17 431.71,308.33 431.75,305.00 C431.79,301.67 431.75,292.50 431.75,290.00Z" fill="#fef5f7" stroke="none"/>
<line x1="432.20" y1="315.65" x2="432.20" y2="364.70" stroke="#f3bfcd" stroke-width="0.8"/>
<rect x="426.20" y="343.70" width="12.00" height="18.70" fill="#fbd1db"/>
<line x1="426.20" y1="353.10" x2="438.20" y2="353.10" stroke="#ef9fb3" stroke-width="1.3"/>
<path d="M431.75,290.00 L432.65,290.00 C432.65,292.50 432.61,301.67 432.65,305.00 C432.69,308.33 432.77,308.17 432.86,310.00 C432.95,311.83 433.08,313.62 433.18,316.00 C433.28,318.38 433.25,321.53 433.45,324.30 C433.65,327.07 433.92,330.07 434.40,332.60 C434.88,335.13 435.52,337.42 436.30,339.50 C437.08,341.58 438.37,343.25 439.10,345.10 C439.83,346.95 440.20,348.30 440.70,350.60 C441.20,352.90 441.90,356.87 442.10,358.90 C442.30,360.93 442.13,361.85 441.90,362.80 C441.67,363.75 441.10,364.20 440.70,364.60 C440.30,365.00 439.70,365.10 439.50,365.20 L424.90,365.20 C424.70,365.10 424.10,365.00 423.70,364.60 C423.30,364.20 422.73,363.75 422.50,362.80 C422.27,361.85 422.10,360.93 422.30,358.90 C422.50,356.87 423.20,352.90 423.70,350.60 C424.20,348.30 424.57,346.95 425.30,345.10 C426.03,343.25 427.32,341.58 428.10,339.50 C428.88,337.42 429.52,335.13 430.00,332.60 C430.48,330.07 430.75,327.07 430.95,324.30 C431.15,321.53 431.12,318.38 431.22,316.00 C431.32,313.62 431.45,311.83 431.54,310.00 C431.63,308.17 431.71,308.33 431.75,305.00 C431.79,301.67 431.75,292.50 431.75,290.00Z" fill="none" stroke="#db365f" stroke-width="1.10" stroke-linejoin="round"/>
<circle cx="432.20" cy="290.20" r="1.15" fill="#9c2b4e"/>
<circle cx="432.20" cy="302.50" r="1.15" fill="#9c2b4e"/>
<path d="M474.45,281.00 L475.35,281.00 C475.35,284.33 475.31,296.97 475.35,301.00 C475.38,305.03 475.47,303.70 475.56,305.20 C475.65,306.70 475.78,308.20 475.88,310.00 C475.98,311.80 476.00,313.62 476.15,316.00 C476.30,318.38 476.46,321.53 476.80,324.30 C477.14,327.07 477.63,329.83 478.20,332.60 C478.77,335.37 479.48,338.35 480.20,340.90 C480.92,343.45 481.83,345.35 482.50,347.90 C483.17,350.45 483.88,353.90 484.20,356.20 C484.52,358.50 484.53,360.37 484.40,361.70 C484.27,363.03 483.77,363.62 483.40,364.20 C483.03,364.78 482.40,365.03 482.20,365.20 L467.60,365.20 C467.40,365.03 466.77,364.78 466.40,364.20 C466.03,363.62 465.53,363.03 465.40,361.70 C465.27,360.37 465.28,358.50 465.60,356.20 C465.92,353.90 466.63,350.45 467.30,347.90 C467.97,345.35 468.88,343.45 469.60,340.90 C470.32,338.35 471.03,335.37 471.60,332.60 C472.17,329.83 472.66,327.07 473.00,324.30 C473.34,321.53 473.50,318.38 473.65,316.00 C473.80,313.62 473.82,311.80 473.92,310.00 C474.02,308.20 474.15,306.70 474.24,305.20 C474.33,303.70 474.41,305.03 474.45,301.00 C474.49,296.97 474.45,284.33 474.45,281.00Z" fill="#f4f9fa" stroke="none"/>
<line x1="474.90" y1="311.45" x2="474.90" y2="364.70" stroke="#b2d3da" stroke-width="0.8"/>
<rect x="469.40" y="341.60" width="11.00" height="20.10" fill="#cfe5eb"/>
<line x1="469.40" y1="354.10" x2="480.40" y2="354.10" stroke="#82bcc6" stroke-width="1.3"/>
<path d="M474.45,281.00 L475.35,281.00 C475.35,284.33 475.31,296.97 475.35,301.00 C475.38,305.03 475.47,303.70 475.56,305.20 C475.65,306.70 475.78,308.20 475.88,310.00 C475.98,311.80 476.00,313.62 476.15,316.00 C476.30,318.38 476.46,321.53 476.80,324.30 C477.14,327.07 477.63,329.83 478.20,332.60 C478.77,335.37 479.48,338.35 480.20,340.90 C480.92,343.45 481.83,345.35 482.50,347.90 C483.17,350.45 483.88,353.90 484.20,356.20 C484.52,358.50 484.53,360.37 484.40,361.70 C484.27,363.03 483.77,363.62 483.40,364.20 C483.03,364.78 482.40,365.03 482.20,365.20 L467.60,365.20 C467.40,365.03 466.77,364.78 466.40,364.20 C466.03,363.62 465.53,363.03 465.40,361.70 C465.27,360.37 465.28,358.50 465.60,356.20 C465.92,353.90 466.63,350.45 467.30,347.90 C467.97,345.35 468.88,343.45 469.60,340.90 C470.32,338.35 471.03,335.37 471.60,332.60 C472.17,329.83 472.66,327.07 473.00,324.30 C473.34,321.53 473.50,318.38 473.65,316.00 C473.80,313.62 473.82,311.80 473.92,310.00 C474.02,308.20 474.15,306.70 474.24,305.20 C474.33,303.70 474.41,305.03 474.45,301.00 C474.49,296.97 474.45,284.33 474.45,281.00Z" fill="none" stroke="#2b7691" stroke-width="1.10" stroke-linejoin="round"/>
<circle cx="474.90" cy="281.20" r="1.15" fill="#1f4d5e"/>
<circle cx="474.90" cy="290.70" r="1.15" fill="#1f4d5e"/>
<line x1="432.20" y1="369.40" x2="432.20" y2="372.60" stroke="#262626" stroke-width="1.2"/>
<line x1="474.90" y1="369.40" x2="474.90" y2="372.60" stroke="#262626" stroke-width="1.2"/>
<path d="M407.20,274.90 L407.20,369.40 L498.60,369.40" fill="none" stroke="#262626" stroke-width="1.4"/>
<g style="will-change:transform">
<text x="5.10" y="13.90" font-size="11.20" fill="#111111" text-anchor="start" stroke="#111111" stroke-width="0.35" font-weight="bold" textLength="8.40" lengthAdjust="spacingAndGlyphs">A</text>
<text x="258.80" y="13.90" font-size="11.20" fill="#111111" text-anchor="start" stroke="#111111" stroke-width="0.35" font-weight="bold" textLength="6.20" lengthAdjust="spacingAndGlyphs">B</text>
<text x="92.00" y="14.40" font-size="8.00" fill="#141414" text-anchor="middle" stroke="#141414" stroke-width="0.12" textLength="58.60" lengthAdjust="spacingAndGlyphs">Baseline FVIII:C</text>
<text x="208.30" y="14.40" font-size="8.00" fill="#141414" text-anchor="middle" stroke="#141414" stroke-width="0.12" textLength="45.50" lengthAdjust="spacingAndGlyphs">Peak FVIII:C</text>
<text x="330.50" y="14.40" font-size="8.00" fill="#141414" text-anchor="middle" stroke="#141414" stroke-width="0.12" textLength="45.00" lengthAdjust="spacingAndGlyphs">AUC FVIII:C</text>
<text x="453.30" y="14.40" font-size="8.00" fill="#141414" text-anchor="middle" stroke="#141414" stroke-width="0.12" textLength="109.30" lengthAdjust="spacingAndGlyphs">Time with FVIII:C ≥0.8 IU/mL</text>
<text x="13.60" y="67.45" font-size="7.60" fill="#1a1a1a" text-anchor="middle" stroke="#1a1a1a" stroke-width="0.06" textLength="49.00" lengthAdjust="spacingAndGlyphs" transform="rotate(-90 13.60 67.45)">F8 genotype</text>
<text x="25.90" y="67.45" font-size="7.40" fill="#141414" text-anchor="middle" stroke="#141414" stroke-width="0.10" textLength="48.70" lengthAdjust="spacingAndGlyphs" transform="rotate(-90 25.90 67.45)">Baseline (UI/mL)</text>
<text x="40.00" y="24.35" font-size="6.50" fill="#1a1a1a" text-anchor="end" stroke="#1a1a1a" stroke-width="0.12">0.8</text>
<text x="40.00" y="50.95" font-size="6.50" fill="#1a1a1a" text-anchor="end" stroke="#1a1a1a" stroke-width="0.12">0.6</text>
<text x="40.00" y="77.55" font-size="6.50" fill="#1a1a1a" text-anchor="end" stroke="#1a1a1a" stroke-width="0.12">0.4</text>
<text x="40.00" y="104.15" font-size="6.50" fill="#1a1a1a" text-anchor="end" stroke="#1a1a1a" stroke-width="0.12">0.2</text>
<text x="71.00" y="127.50" font-size="6.50" fill="#1a1a1a" text-anchor="middle" stroke="#1a1a1a" stroke-width="0.12">Null</text>
<text x="112.90" y="127.50" font-size="6.50" fill="#1a1a1a" text-anchor="middle" stroke="#1a1a1a" stroke-width="0.12">No null</text>
<text x="147.30" y="67.30" font-size="7.40" fill="#141414" text-anchor="middle" stroke="#141414" stroke-width="0.10" textLength="37.90" lengthAdjust="spacingAndGlyphs" transform="rotate(-90 147.30 67.30)">Peak (UI/mL)</text>
<text x="156.50" y="51.05" font-size="6.50" fill="#1a1a1a" text-anchor="end" stroke="#1a1a1a" stroke-width="0.12">2</text>
<text x="156.50" y="90.35" font-size="6.50" fill="#1a1a1a" text-anchor="end" stroke="#1a1a1a" stroke-width="0.12">1</text>
<text x="188.50" y="127.50" font-size="6.50" fill="#1a1a1a" text-anchor="middle" stroke="#1a1a1a" stroke-width="0.12">Null</text>
<text x="232.20" y="127.50" font-size="6.50" fill="#1a1a1a" text-anchor="middle" stroke="#1a1a1a" stroke-width="0.12">No null</text>
<text x="265.30" y="66.30" font-size="7.40" fill="#141414" text-anchor="middle" stroke="#141414" stroke-width="0.10" textLength="62.40" lengthAdjust="spacingAndGlyphs" transform="rotate(-90 265.30 66.30)">AUC 0-12 (UI/mL*h)</text>
<text x="279.00" y="21.15" font-size="6.50" fill="#1a1a1a" text-anchor="end" stroke="#1a1a1a" stroke-width="0.12">20</text>
<text x="279.00" y="47.65" font-size="6.50" fill="#1a1a1a" text-anchor="end" stroke="#1a1a1a" stroke-width="0.12">15</text>
<text x="279.00" y="74.15" font-size="6.50" fill="#1a1a1a" text-anchor="end" stroke="#1a1a1a" stroke-width="0.12">10</text>
<text x="279.00" y="100.65" font-size="6.50" fill="#1a1a1a" text-anchor="end" stroke="#1a1a1a" stroke-width="0.12">5</text>
<text x="310.20" y="127.50" font-size="6.50" fill="#1a1a1a" text-anchor="middle" stroke="#1a1a1a" stroke-width="0.12">Null</text>
<text x="352.50" y="127.50" font-size="6.50" fill="#1a1a1a" text-anchor="middle" stroke="#1a1a1a" stroke-width="0.12">No null</text>
<text x="386.80" y="68.45" font-size="7.40" fill="#141414" text-anchor="middle" stroke="#141414" stroke-width="0.10" textLength="64.30" lengthAdjust="spacingAndGlyphs" transform="rotate(-90 386.80 68.45)">Time above 0.8 UI/mL</text>
<text x="400.90" y="25.75" font-size="6.50" fill="#1a1a1a" text-anchor="end" stroke="#1a1a1a" stroke-width="0.12">25</text>
<text x="400.90" y="43.35" font-size="6.50" fill="#1a1a1a" text-anchor="end" stroke="#1a1a1a" stroke-width="0.12">20</text>
<text x="400.90" y="60.95" font-size="6.50" fill="#1a1a1a" text-anchor="end" stroke="#1a1a1a" stroke-width="0.12">15</text>
<text x="400.90" y="78.55" font-size="6.50" fill="#1a1a1a" text-anchor="end" stroke="#1a1a1a" stroke-width="0.12">10</text>
<text x="400.90" y="96.15" font-size="6.50" fill="#1a1a1a" text-anchor="end" stroke="#1a1a1a" stroke-width="0.12">5</text>
<text x="400.90" y="113.75" font-size="6.50" fill="#1a1a1a" text-anchor="end" stroke="#1a1a1a" stroke-width="0.12">0</text>
<text x="432.20" y="127.50" font-size="6.50" fill="#1a1a1a" text-anchor="middle" stroke="#1a1a1a" stroke-width="0.12">Null</text>
<text x="474.50" y="127.50" font-size="6.50" fill="#1a1a1a" text-anchor="middle" stroke="#1a1a1a" stroke-width="0.12">No null</text>
<text x="13.60" y="194.40" font-size="7.60" fill="#1a1a1a" text-anchor="middle" stroke="#1a1a1a" stroke-width="0.06" textLength="65.50" lengthAdjust="spacingAndGlyphs" transform="rotate(-90 13.60 194.40)">Body weight (kg)</text>
<text x="25.90" y="194.40" font-size="7.40" fill="#141414" text-anchor="middle" stroke="#141414" stroke-width="0.10" textLength="48.70" lengthAdjust="spacingAndGlyphs" transform="rotate(-90 25.90 194.40)">Baseline (UI/mL)</text>
<text x="40.00" y="151.10" font-size="6.50" fill="#1a1a1a" text-anchor="end" stroke="#1a1a1a" stroke-width="0.12">0.8</text>
<text x="40.00" y="177.70" font-size="6.50" fill="#1a1a1a" text-anchor="end" stroke="#1a1a1a" stroke-width="0.12">0.6</text>
<text x="40.00" y="204.30" font-size="6.50" fill="#1a1a1a" text-anchor="end" stroke="#1a1a1a" stroke-width="0.12">0.4</text>
<text x="40.00" y="230.90" font-size="6.50" fill="#1a1a1a" text-anchor="end" stroke="#1a1a1a" stroke-width="0.12">0.2</text>
<text x="63.00" y="254.40" font-size="6.50" fill="#1a1a1a" text-anchor="middle" stroke="#1a1a1a" stroke-width="0.12">(0,35]</text>
<text x="92.00" y="254.40" font-size="6.50" fill="#1a1a1a" text-anchor="middle" stroke="#1a1a1a" stroke-width="0.12">(35,70]</text>
<text x="120.80" y="254.40" font-size="6.50" fill="#1a1a1a" text-anchor="middle" stroke="#1a1a1a" stroke-width="0.12">(70,120]</text>
<text x="147.30" y="194.25" font-size="7.40" fill="#141414" text-anchor="middle" stroke="#141414" stroke-width="0.10" textLength="37.90" lengthAdjust="spacingAndGlyphs" transform="rotate(-90 147.30 194.25)">Peak (UI/mL)</text>
<text x="156.50" y="177.80" font-size="6.50" fill="#1a1a1a" text-anchor="end" stroke="#1a1a1a" stroke-width="0.12">2</text>
<text x="156.50" y="217.10" font-size="6.50" fill="#1a1a1a" text-anchor="end" stroke="#1a1a1a" stroke-width="0.12">1</text>
<text x="181.00" y="254.40" font-size="6.50" fill="#1a1a1a" text-anchor="middle" stroke="#1a1a1a" stroke-width="0.12">(0,35]</text>
<text x="210.80" y="254.40" font-size="6.50" fill="#1a1a1a" text-anchor="middle" stroke="#1a1a1a" stroke-width="0.12">(35,70]</text>
<text x="240.60" y="254.40" font-size="6.50" fill="#1a1a1a" text-anchor="middle" stroke="#1a1a1a" stroke-width="0.12">(70,120]</text>
<text x="265.30" y="193.40" font-size="7.40" fill="#141414" text-anchor="middle" stroke="#141414" stroke-width="0.10" textLength="62.40" lengthAdjust="spacingAndGlyphs" transform="rotate(-90 265.30 193.40)">AUC 0-12 (UI/mL*h)</text>
<text x="279.00" y="147.90" font-size="6.50" fill="#1a1a1a" text-anchor="end" stroke="#1a1a1a" stroke-width="0.12">20</text>
<text x="279.00" y="174.40" font-size="6.50" fill="#1a1a1a" text-anchor="end" stroke="#1a1a1a" stroke-width="0.12">15</text>
<text x="279.00" y="200.90" font-size="6.50" fill="#1a1a1a" text-anchor="end" stroke="#1a1a1a" stroke-width="0.12">10</text>
<text x="279.00" y="227.40" font-size="6.50" fill="#1a1a1a" text-anchor="end" stroke="#1a1a1a" stroke-width="0.12">5</text>
<text x="302.00" y="254.40" font-size="6.50" fill="#1a1a1a" text-anchor="middle" stroke="#1a1a1a" stroke-width="0.12">(0,35]</text>
<text x="331.30" y="254.40" font-size="6.50" fill="#1a1a1a" text-anchor="middle" stroke="#1a1a1a" stroke-width="0.12">(35,70]</text>
<text x="360.40" y="254.40" font-size="6.50" fill="#1a1a1a" text-anchor="middle" stroke="#1a1a1a" stroke-width="0.12">(70,120]</text>
<text x="386.80" y="195.40" font-size="7.40" fill="#141414" text-anchor="middle" stroke="#141414" stroke-width="0.10" textLength="64.30" lengthAdjust="spacingAndGlyphs" transform="rotate(-90 386.80 195.40)">Time above 0.8 UI/mL</text>
<text x="400.90" y="152.50" font-size="6.50" fill="#1a1a1a" text-anchor="end" stroke="#1a1a1a" stroke-width="0.12">25</text>
<text x="400.90" y="170.10" font-size="6.50" fill="#1a1a1a" text-anchor="end" stroke="#1a1a1a" stroke-width="0.12">20</text>
<text x="400.90" y="187.70" font-size="6.50" fill="#1a1a1a" text-anchor="end" stroke="#1a1a1a" stroke-width="0.12">15</text>
<text x="400.90" y="205.30" font-size="6.50" fill="#1a1a1a" text-anchor="end" stroke="#1a1a1a" stroke-width="0.12">10</text>
<text x="400.90" y="222.90" font-size="6.50" fill="#1a1a1a" text-anchor="end" stroke="#1a1a1a" stroke-width="0.12">5</text>
<text x="400.90" y="240.50" font-size="6.50" fill="#1a1a1a" text-anchor="end" stroke="#1a1a1a" stroke-width="0.12">0</text>
<text x="424.50" y="254.40" font-size="6.50" fill="#1a1a1a" text-anchor="middle" stroke="#1a1a1a" stroke-width="0.12">(0,35]</text>
<text x="453.50" y="254.40" font-size="6.50" fill="#1a1a1a" text-anchor="middle" stroke="#1a1a1a" stroke-width="0.12">(35,70]</text>
<text x="482.60" y="254.40" font-size="6.50" fill="#1a1a1a" text-anchor="middle" stroke="#1a1a1a" stroke-width="0.12">(70,120]</text>
<text x="13.60" y="321.35" font-size="7.60" fill="#1a1a1a" text-anchor="middle" stroke="#1a1a1a" stroke-width="0.06" textLength="47.80" lengthAdjust="spacingAndGlyphs" transform="rotate(-90 13.60 321.35)">Blood group</text>
<text x="25.90" y="321.35" font-size="7.40" fill="#141414" text-anchor="middle" stroke="#141414" stroke-width="0.10" textLength="48.70" lengthAdjust="spacingAndGlyphs" transform="rotate(-90 25.90 321.35)">Baseline (UI/mL)</text>
<text x="40.00" y="277.85" font-size="6.50" fill="#1a1a1a" text-anchor="end" stroke="#1a1a1a" stroke-width="0.12">0.8</text>
<text x="40.00" y="304.45" font-size="6.50" fill="#1a1a1a" text-anchor="end" stroke="#1a1a1a" stroke-width="0.12">0.6</text>
<text x="40.00" y="331.05" font-size="6.50" fill="#1a1a1a" text-anchor="end" stroke="#1a1a1a" stroke-width="0.12">0.4</text>
<text x="40.00" y="357.65" font-size="6.50" fill="#1a1a1a" text-anchor="end" stroke="#1a1a1a" stroke-width="0.12">0.2</text>
<text x="70.90" y="381.30" font-size="6.50" fill="#1a1a1a" text-anchor="middle" stroke="#1a1a1a" stroke-width="0.12">O</text>
<text x="112.80" y="381.30" font-size="6.50" fill="#1a1a1a" text-anchor="middle" stroke="#1a1a1a" stroke-width="0.12">No O</text>
<text x="147.30" y="321.20" font-size="7.40" fill="#141414" text-anchor="middle" stroke="#141414" stroke-width="0.10" textLength="37.90" lengthAdjust="spacingAndGlyphs" transform="rotate(-90 147.30 321.20)">Peak (UI/mL)</text>
<text x="156.50" y="304.55" font-size="6.50" fill="#1a1a1a" text-anchor="end" stroke="#1a1a1a" stroke-width="0.12">2</text>
<text x="156.50" y="343.85" font-size="6.50" fill="#1a1a1a" text-anchor="end" stroke="#1a1a1a" stroke-width="0.12">1</text>
<text x="188.40" y="381.30" font-size="6.50" fill="#1a1a1a" text-anchor="middle" stroke="#1a1a1a" stroke-width="0.12">O</text>
<text x="232.10" y="381.30" font-size="6.50" fill="#1a1a1a" text-anchor="middle" stroke="#1a1a1a" stroke-width="0.12">No O</text>
<text x="265.30" y="320.10" font-size="7.40" fill="#141414" text-anchor="middle" stroke="#141414" stroke-width="0.10" textLength="62.40" lengthAdjust="spacingAndGlyphs" transform="rotate(-90 265.30 320.10)">AUC 0-12 (UI/mL*h)</text>
<text x="279.00" y="274.65" font-size="6.50" fill="#1a1a1a" text-anchor="end" stroke="#1a1a1a" stroke-width="0.12">20</text>
<text x="279.00" y="301.15" font-size="6.50" fill="#1a1a1a" text-anchor="end" stroke="#1a1a1a" stroke-width="0.12">15</text>
<text x="279.00" y="327.65" font-size="6.50" fill="#1a1a1a" text-anchor="end" stroke="#1a1a1a" stroke-width="0.12">10</text>
<text x="279.00" y="354.15" font-size="6.50" fill="#1a1a1a" text-anchor="end" stroke="#1a1a1a" stroke-width="0.12">5</text>
<text x="310.20" y="381.30" font-size="6.50" fill="#1a1a1a" text-anchor="middle" stroke="#1a1a1a" stroke-width="0.12">O</text>
<text x="352.50" y="381.30" font-size="6.50" fill="#1a1a1a" text-anchor="middle" stroke="#1a1a1a" stroke-width="0.12">No O</text>
<text x="386.80" y="322.15" font-size="7.40" fill="#141414" text-anchor="middle" stroke="#141414" stroke-width="0.10" textLength="64.30" lengthAdjust="spacingAndGlyphs" transform="rotate(-90 386.80 322.15)">Time above 0.8 UI/mL</text>
<text x="400.90" y="279.25" font-size="6.50" fill="#1a1a1a" text-anchor="end" stroke="#1a1a1a" stroke-width="0.12">25</text>
<text x="400.90" y="296.85" font-size="6.50" fill="#1a1a1a" text-anchor="end" stroke="#1a1a1a" stroke-width="0.12">20</text>
<text x="400.90" y="314.45" font-size="6.50" fill="#1a1a1a" text-anchor="end" stroke="#1a1a1a" stroke-width="0.12">15</text>
<text x="400.90" y="332.05" font-size="6.50" fill="#1a1a1a" text-anchor="end" stroke="#1a1a1a" stroke-width="0.12">10</text>
<text x="400.90" y="349.65" font-size="6.50" fill="#1a1a1a" text-anchor="end" stroke="#1a1a1a" stroke-width="0.12">5</text>
<text x="400.90" y="367.25" font-size="6.50" fill="#1a1a1a" text-anchor="end" stroke="#1a1a1a" stroke-width="0.12">0</text>
<text x="432.20" y="381.30" font-size="6.50" fill="#1a1a1a" text-anchor="middle" stroke="#1a1a1a" stroke-width="0.12">O</text>
<text x="474.90" y="381.30" font-size="6.50" fill="#1a1a1a" text-anchor="middle" stroke="#1a1a1a" stroke-width="0.12">No O</text>
</g>
</svg>
</body></html>
